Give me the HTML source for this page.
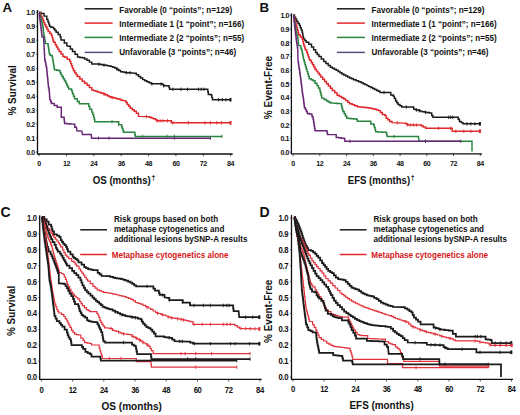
<!DOCTYPE html>
<html><head><meta charset="utf-8"><style>
html,body{margin:0;padding:0;background:#fff;}
body{width:520px;height:415px;overflow:hidden;}
svg{display:block;}
text{font-family:"Liberation Sans",sans-serif;font-weight:bold;fill:#111;}
.tk{font-size:7.1px;letter-spacing:-0.45px;}
.tk2{font-size:7.7px;letter-spacing:-0.4px;}
.lg{font-size:8.1px;}
.ax{font-size:9.8px;}
.dg{font-size:7px;}
.pl{font-size:13.3px;}
polyline{fill:none;stroke-linejoin:miter;stroke-linecap:butt;}
</style></head><body>
<svg width="520" height="415" viewBox="0 0 520 415">
<rect width="520" height="415" fill="#fff"/>
<path d="M37.5 10.0 V154.0 H232.7" stroke="#111" stroke-width="1.3" fill="none"/>
<line x1="39.1" y1="154.0" x2="39.1" y2="156.2" stroke="#111" stroke-width="0.7"/>
<text transform="translate(39.1,166.0) scale(1,1.12)" class="tk" text-anchor="middle">0</text>
<line x1="66.5" y1="154.0" x2="66.5" y2="156.2" stroke="#111" stroke-width="0.7"/>
<text transform="translate(66.5,166.0) scale(1,1.12)" class="tk" text-anchor="middle">12</text>
<line x1="93.8" y1="154.0" x2="93.8" y2="156.2" stroke="#111" stroke-width="0.7"/>
<text transform="translate(93.8,166.0) scale(1,1.12)" class="tk" text-anchor="middle">24</text>
<line x1="121.2" y1="154.0" x2="121.2" y2="156.2" stroke="#111" stroke-width="0.7"/>
<text transform="translate(121.2,166.0) scale(1,1.12)" class="tk" text-anchor="middle">36</text>
<line x1="148.5" y1="154.0" x2="148.5" y2="156.2" stroke="#111" stroke-width="0.7"/>
<text transform="translate(148.5,166.0) scale(1,1.12)" class="tk" text-anchor="middle">48</text>
<line x1="175.9" y1="154.0" x2="175.9" y2="156.2" stroke="#111" stroke-width="0.7"/>
<text transform="translate(175.9,166.0) scale(1,1.12)" class="tk" text-anchor="middle">60</text>
<line x1="203.3" y1="154.0" x2="203.3" y2="156.2" stroke="#111" stroke-width="0.7"/>
<text transform="translate(203.3,166.0) scale(1,1.12)" class="tk" text-anchor="middle">72</text>
<line x1="230.6" y1="154.0" x2="230.6" y2="156.2" stroke="#111" stroke-width="0.7"/>
<text transform="translate(230.6,166.0) scale(1,1.12)" class="tk" text-anchor="middle">84</text>
<text transform="translate(34.8,154.9) scale(1,1.1)" class="tk" text-anchor="end">0.0</text>
<line x1="36.2" y1="152.1" x2="37.5" y2="152.1" stroke="#111" stroke-width="0.7"/>
<text transform="translate(34.8,140.9) scale(1,1.1)" class="tk" text-anchor="end">0.1</text>
<line x1="36.2" y1="138.1" x2="37.5" y2="138.1" stroke="#111" stroke-width="0.7"/>
<text transform="translate(34.8,126.9) scale(1,1.1)" class="tk" text-anchor="end">0.2</text>
<line x1="36.2" y1="124.1" x2="37.5" y2="124.1" stroke="#111" stroke-width="0.7"/>
<text transform="translate(34.8,112.9) scale(1,1.1)" class="tk" text-anchor="end">0.3</text>
<line x1="36.2" y1="110.2" x2="37.5" y2="110.2" stroke="#111" stroke-width="0.7"/>
<text transform="translate(34.8,99.0) scale(1,1.1)" class="tk" text-anchor="end">0.4</text>
<line x1="36.2" y1="96.2" x2="37.5" y2="96.2" stroke="#111" stroke-width="0.7"/>
<text transform="translate(34.8,85.0) scale(1,1.1)" class="tk" text-anchor="end">0.5</text>
<line x1="36.2" y1="82.2" x2="37.5" y2="82.2" stroke="#111" stroke-width="0.7"/>
<text transform="translate(34.8,71.0) scale(1,1.1)" class="tk" text-anchor="end">0.6</text>
<line x1="36.2" y1="68.2" x2="37.5" y2="68.2" stroke="#111" stroke-width="0.7"/>
<text transform="translate(34.8,57.0) scale(1,1.1)" class="tk" text-anchor="end">0.7</text>
<line x1="36.2" y1="54.2" x2="37.5" y2="54.2" stroke="#111" stroke-width="0.7"/>
<text transform="translate(34.8,43.0) scale(1,1.1)" class="tk" text-anchor="end">0.8</text>
<line x1="36.2" y1="40.3" x2="37.5" y2="40.3" stroke="#111" stroke-width="0.7"/>
<text transform="translate(34.8,29.1) scale(1,1.1)" class="tk" text-anchor="end">0.9</text>
<line x1="36.2" y1="26.3" x2="37.5" y2="26.3" stroke="#111" stroke-width="0.7"/>
<text transform="translate(34.8,15.1) scale(1,1.1)" class="tk" text-anchor="end">1.0</text>
<line x1="36.2" y1="12.3" x2="37.5" y2="12.3" stroke="#111" stroke-width="0.7"/>
<path d="M291.4 13.3 V153.9 H482.0" stroke="#111" stroke-width="1.3" fill="none"/>
<line x1="293.1" y1="153.9" x2="293.1" y2="156.1" stroke="#111" stroke-width="0.7"/>
<text transform="translate(293.1,165.7) scale(1,1.12)" class="tk" text-anchor="middle">0</text>
<line x1="319.8" y1="153.9" x2="319.8" y2="156.1" stroke="#111" stroke-width="0.7"/>
<text transform="translate(319.8,165.7) scale(1,1.12)" class="tk" text-anchor="middle">12</text>
<line x1="346.6" y1="153.9" x2="346.6" y2="156.1" stroke="#111" stroke-width="0.7"/>
<text transform="translate(346.6,165.7) scale(1,1.12)" class="tk" text-anchor="middle">24</text>
<line x1="373.3" y1="153.9" x2="373.3" y2="156.1" stroke="#111" stroke-width="0.7"/>
<text transform="translate(373.3,165.7) scale(1,1.12)" class="tk" text-anchor="middle">36</text>
<line x1="400.1" y1="153.9" x2="400.1" y2="156.1" stroke="#111" stroke-width="0.7"/>
<text transform="translate(400.1,165.7) scale(1,1.12)" class="tk" text-anchor="middle">48</text>
<line x1="426.8" y1="153.9" x2="426.8" y2="156.1" stroke="#111" stroke-width="0.7"/>
<text transform="translate(426.8,165.7) scale(1,1.12)" class="tk" text-anchor="middle">60</text>
<line x1="453.5" y1="153.9" x2="453.5" y2="156.1" stroke="#111" stroke-width="0.7"/>
<text transform="translate(453.5,165.7) scale(1,1.12)" class="tk" text-anchor="middle">72</text>
<line x1="480.3" y1="153.9" x2="480.3" y2="156.1" stroke="#111" stroke-width="0.7"/>
<text transform="translate(480.3,165.7) scale(1,1.12)" class="tk" text-anchor="middle">84</text>
<text transform="translate(288.9,154.9) scale(1,1.1)" class="tk" text-anchor="end">0.0</text>
<line x1="290.1" y1="152.1" x2="291.4" y2="152.1" stroke="#111" stroke-width="0.7"/>
<text transform="translate(288.9,141.2) scale(1,1.1)" class="tk" text-anchor="end">0.1</text>
<line x1="290.1" y1="138.4" x2="291.4" y2="138.4" stroke="#111" stroke-width="0.7"/>
<text transform="translate(288.9,127.5) scale(1,1.1)" class="tk" text-anchor="end">0.2</text>
<line x1="290.1" y1="124.8" x2="291.4" y2="124.8" stroke="#111" stroke-width="0.7"/>
<text transform="translate(288.9,113.9) scale(1,1.1)" class="tk" text-anchor="end">0.3</text>
<line x1="290.1" y1="111.1" x2="291.4" y2="111.1" stroke="#111" stroke-width="0.7"/>
<text transform="translate(288.9,100.2) scale(1,1.1)" class="tk" text-anchor="end">0.4</text>
<line x1="290.1" y1="97.4" x2="291.4" y2="97.4" stroke="#111" stroke-width="0.7"/>
<text transform="translate(288.9,86.5) scale(1,1.1)" class="tk" text-anchor="end">0.5</text>
<line x1="290.1" y1="83.8" x2="291.4" y2="83.8" stroke="#111" stroke-width="0.7"/>
<text transform="translate(288.9,72.9) scale(1,1.1)" class="tk" text-anchor="end">0.6</text>
<line x1="290.1" y1="70.1" x2="291.4" y2="70.1" stroke="#111" stroke-width="0.7"/>
<text transform="translate(288.9,59.2) scale(1,1.1)" class="tk" text-anchor="end">0.7</text>
<line x1="290.1" y1="56.4" x2="291.4" y2="56.4" stroke="#111" stroke-width="0.7"/>
<text transform="translate(288.9,45.5) scale(1,1.1)" class="tk" text-anchor="end">0.8</text>
<line x1="290.1" y1="42.7" x2="291.4" y2="42.7" stroke="#111" stroke-width="0.7"/>
<text transform="translate(288.9,31.8) scale(1,1.1)" class="tk" text-anchor="end">0.9</text>
<line x1="290.1" y1="29.1" x2="291.4" y2="29.1" stroke="#111" stroke-width="0.7"/>
<text transform="translate(288.9,18.2) scale(1,1.1)" class="tk" text-anchor="end">1.0</text>
<line x1="290.1" y1="15.4" x2="291.4" y2="15.4" stroke="#111" stroke-width="0.7"/>
<path d="M39.7 215.2 V379.3 H261.7" stroke="#111" stroke-width="1.3" fill="none"/>
<line x1="41.4" y1="379.3" x2="41.4" y2="381.5" stroke="#111" stroke-width="0.7"/>
<text transform="translate(41.4,392.5) scale(1,1.12)" class="tk2" text-anchor="middle">0</text>
<line x1="72.6" y1="379.3" x2="72.6" y2="381.5" stroke="#111" stroke-width="0.7"/>
<text transform="translate(72.6,392.5) scale(1,1.12)" class="tk2" text-anchor="middle">12</text>
<line x1="103.8" y1="379.3" x2="103.8" y2="381.5" stroke="#111" stroke-width="0.7"/>
<text transform="translate(103.8,392.5) scale(1,1.12)" class="tk2" text-anchor="middle">24</text>
<line x1="135.0" y1="379.3" x2="135.0" y2="381.5" stroke="#111" stroke-width="0.7"/>
<text transform="translate(135.0,392.5) scale(1,1.12)" class="tk2" text-anchor="middle">36</text>
<line x1="166.2" y1="379.3" x2="166.2" y2="381.5" stroke="#111" stroke-width="0.7"/>
<text transform="translate(166.2,392.5) scale(1,1.12)" class="tk2" text-anchor="middle">48</text>
<line x1="197.5" y1="379.3" x2="197.5" y2="381.5" stroke="#111" stroke-width="0.7"/>
<text transform="translate(197.5,392.5) scale(1,1.12)" class="tk2" text-anchor="middle">60</text>
<line x1="228.7" y1="379.3" x2="228.7" y2="381.5" stroke="#111" stroke-width="0.7"/>
<text transform="translate(228.7,392.5) scale(1,1.12)" class="tk2" text-anchor="middle">72</text>
<line x1="259.9" y1="379.3" x2="259.9" y2="381.5" stroke="#111" stroke-width="0.7"/>
<text transform="translate(259.9,392.5) scale(1,1.12)" class="tk2" text-anchor="middle">84</text>
<text transform="translate(36.5,380.0) scale(1,1.1)" class="tk2" text-anchor="end">0.0</text>
<line x1="38.4" y1="377.0" x2="39.7" y2="377.0" stroke="#111" stroke-width="0.7"/>
<text transform="translate(36.5,364.1) scale(1,1.1)" class="tk2" text-anchor="end">0.1</text>
<line x1="38.4" y1="361.1" x2="39.7" y2="361.1" stroke="#111" stroke-width="0.7"/>
<text transform="translate(36.5,348.2) scale(1,1.1)" class="tk2" text-anchor="end">0.2</text>
<line x1="38.4" y1="345.2" x2="39.7" y2="345.2" stroke="#111" stroke-width="0.7"/>
<text transform="translate(36.5,332.3) scale(1,1.1)" class="tk2" text-anchor="end">0.3</text>
<line x1="38.4" y1="329.3" x2="39.7" y2="329.3" stroke="#111" stroke-width="0.7"/>
<text transform="translate(36.5,316.4) scale(1,1.1)" class="tk2" text-anchor="end">0.4</text>
<line x1="38.4" y1="313.4" x2="39.7" y2="313.4" stroke="#111" stroke-width="0.7"/>
<text transform="translate(36.5,300.5) scale(1,1.1)" class="tk2" text-anchor="end">0.5</text>
<line x1="38.4" y1="297.5" x2="39.7" y2="297.5" stroke="#111" stroke-width="0.7"/>
<text transform="translate(36.5,284.6) scale(1,1.1)" class="tk2" text-anchor="end">0.6</text>
<line x1="38.4" y1="281.6" x2="39.7" y2="281.6" stroke="#111" stroke-width="0.7"/>
<text transform="translate(36.5,268.7) scale(1,1.1)" class="tk2" text-anchor="end">0.7</text>
<line x1="38.4" y1="265.7" x2="39.7" y2="265.7" stroke="#111" stroke-width="0.7"/>
<text transform="translate(36.5,252.8) scale(1,1.1)" class="tk2" text-anchor="end">0.8</text>
<line x1="38.4" y1="249.8" x2="39.7" y2="249.8" stroke="#111" stroke-width="0.7"/>
<text transform="translate(36.5,236.9) scale(1,1.1)" class="tk2" text-anchor="end">0.9</text>
<line x1="38.4" y1="233.9" x2="39.7" y2="233.9" stroke="#111" stroke-width="0.7"/>
<text transform="translate(36.5,221.0) scale(1,1.1)" class="tk2" text-anchor="end">1.0</text>
<line x1="38.4" y1="218.0" x2="39.7" y2="218.0" stroke="#111" stroke-width="0.7"/>
<path d="M291.5 215.0 V379.3 H513.0" stroke="#111" stroke-width="1.3" fill="none"/>
<line x1="292.9" y1="379.3" x2="292.9" y2="381.5" stroke="#111" stroke-width="0.7"/>
<text transform="translate(292.9,392.4) scale(1,1.12)" class="tk2" text-anchor="middle">0</text>
<line x1="324.1" y1="379.3" x2="324.1" y2="381.5" stroke="#111" stroke-width="0.7"/>
<text transform="translate(324.1,392.4) scale(1,1.12)" class="tk2" text-anchor="middle">12</text>
<line x1="355.4" y1="379.3" x2="355.4" y2="381.5" stroke="#111" stroke-width="0.7"/>
<text transform="translate(355.4,392.4) scale(1,1.12)" class="tk2" text-anchor="middle">24</text>
<line x1="386.6" y1="379.3" x2="386.6" y2="381.5" stroke="#111" stroke-width="0.7"/>
<text transform="translate(386.6,392.4) scale(1,1.12)" class="tk2" text-anchor="middle">36</text>
<line x1="417.8" y1="379.3" x2="417.8" y2="381.5" stroke="#111" stroke-width="0.7"/>
<text transform="translate(417.8,392.4) scale(1,1.12)" class="tk2" text-anchor="middle">48</text>
<line x1="449.0" y1="379.3" x2="449.0" y2="381.5" stroke="#111" stroke-width="0.7"/>
<text transform="translate(449.0,392.4) scale(1,1.12)" class="tk2" text-anchor="middle">60</text>
<line x1="480.3" y1="379.3" x2="480.3" y2="381.5" stroke="#111" stroke-width="0.7"/>
<text transform="translate(480.3,392.4) scale(1,1.12)" class="tk2" text-anchor="middle">72</text>
<line x1="511.5" y1="379.3" x2="511.5" y2="381.5" stroke="#111" stroke-width="0.7"/>
<text transform="translate(511.5,392.4) scale(1,1.12)" class="tk2" text-anchor="middle">84</text>
<text transform="translate(288.1,380.0) scale(1,1.1)" class="tk2" text-anchor="end">0.0</text>
<line x1="290.2" y1="377.0" x2="291.5" y2="377.0" stroke="#111" stroke-width="0.7"/>
<text transform="translate(288.1,364.1) scale(1,1.1)" class="tk2" text-anchor="end">0.1</text>
<line x1="290.2" y1="361.1" x2="291.5" y2="361.1" stroke="#111" stroke-width="0.7"/>
<text transform="translate(288.1,348.2) scale(1,1.1)" class="tk2" text-anchor="end">0.2</text>
<line x1="290.2" y1="345.2" x2="291.5" y2="345.2" stroke="#111" stroke-width="0.7"/>
<text transform="translate(288.1,332.3) scale(1,1.1)" class="tk2" text-anchor="end">0.3</text>
<line x1="290.2" y1="329.3" x2="291.5" y2="329.3" stroke="#111" stroke-width="0.7"/>
<text transform="translate(288.1,316.4) scale(1,1.1)" class="tk2" text-anchor="end">0.4</text>
<line x1="290.2" y1="313.4" x2="291.5" y2="313.4" stroke="#111" stroke-width="0.7"/>
<text transform="translate(288.1,300.5) scale(1,1.1)" class="tk2" text-anchor="end">0.5</text>
<line x1="290.2" y1="297.5" x2="291.5" y2="297.5" stroke="#111" stroke-width="0.7"/>
<text transform="translate(288.1,284.6) scale(1,1.1)" class="tk2" text-anchor="end">0.6</text>
<line x1="290.2" y1="281.6" x2="291.5" y2="281.6" stroke="#111" stroke-width="0.7"/>
<text transform="translate(288.1,268.7) scale(1,1.1)" class="tk2" text-anchor="end">0.7</text>
<line x1="290.2" y1="265.7" x2="291.5" y2="265.7" stroke="#111" stroke-width="0.7"/>
<text transform="translate(288.1,252.8) scale(1,1.1)" class="tk2" text-anchor="end">0.8</text>
<line x1="290.2" y1="249.8" x2="291.5" y2="249.8" stroke="#111" stroke-width="0.7"/>
<text transform="translate(288.1,236.9) scale(1,1.1)" class="tk2" text-anchor="end">0.9</text>
<line x1="290.2" y1="233.9" x2="291.5" y2="233.9" stroke="#111" stroke-width="0.7"/>
<text transform="translate(288.1,221.0) scale(1,1.1)" class="tk2" text-anchor="end">1.0</text>
<line x1="290.2" y1="218.0" x2="291.5" y2="218.0" stroke="#111" stroke-width="0.7"/>
<polyline points="39.0,12.5 41.0,12.5 41.0,13.5 44.1,13.5 44.1,16.1 46.8,16.1 46.8,19.4 48.0,19.4 48.0,22.0 48.8,22.0 48.8,24.1 49.5,24.1 49.5,26.2 50.8,26.2 50.8,27.2 53.5,27.2 53.5,28.8 54.9,28.8 54.9,30.5 56.2,30.5 56.2,32.2 58.2,32.2 58.2,34.5 60.2,34.5 60.2,36.9 61.0,36.9 61.0,40.0 64.3,40.0 64.3,43.0 66.8,43.0 66.8,45.8 68.3,46.3 70.4,46.3 70.4,48.9 72.5,48.9 72.5,51.5 75.0,51.5 75.0,54.2 77.5,54.2 77.5,57.0 79.8,57.0 79.8,57.4 82.2,57.4 82.2,57.7 84.6,57.7 84.6,59.0 87.0,59.0 87.0,60.2 89.4,60.2 89.4,62.1 91.8,62.1 91.8,64.0 97.5,64.0 99.4,64.0 99.4,64.3 101.4,64.3 101.4,64.7 103.3,64.7 103.3,65.0 105.2,65.0 105.2,65.3 107.2,65.3 107.2,65.7 109.1,65.7 109.1,66.0 111.0,66.0 111.0,66.6 112.9,66.6 112.9,67.3 114.8,67.3 114.8,67.9 116.7,67.9 116.7,69.2 118.7,69.2 118.7,70.4 120.6,70.4 120.6,71.7 122.5,71.7 122.5,72.0 124.5,72.0 124.5,72.4 126.4,72.4 126.4,72.7 130.0,72.7 134.2,73.3 136.3,73.3 136.3,74.8 138.5,74.8 138.5,76.4 140.6,76.4 140.6,78.0 142.7,78.0 142.7,79.6 144.8,79.6 144.8,80.7 146.9,80.7 146.9,81.7 149.1,81.7 149.1,82.8 151.2,82.8 151.2,83.8 160.1,83.8 162.4,83.8 162.4,84.5 163.6,84.5 163.6,85.8 168.4,85.8 169.0,85.8 169.0,87.5 169.6,87.5 169.6,89.3 207.2,89.3 207.8,89.3 207.8,91.8 208.3,91.8 208.3,94.4 211.4,94.4 211.4,95.5 211.9,95.5 211.9,97.6 212.5,97.6 212.5,99.7 230.5,99.7" stroke="#1b1b1b" stroke-width="1.45"/>
<polyline points="39.0,12.5 40.0,12.5 40.0,14.4 41.0,14.4 41.0,16.2 42.0,16.2 42.0,18.1 42.9,18.1 42.9,20.3 43.8,20.3 43.8,22.6 44.7,22.6 44.7,24.8 45.8,24.8 45.8,27.0 47.0,27.0 47.0,29.3 48.1,29.3 48.1,31.5 49.8,31.5 49.8,33.5 51.5,33.5 51.5,35.6 52.2,35.6 52.2,37.8 52.8,37.8 52.8,40.1 53.5,40.1 53.5,42.3 55.2,42.3 55.2,44.8 56.5,44.8 56.5,47.0 57.8,47.0 57.8,49.3 59.1,49.3 59.1,51.5 61.0,51.5 61.0,54.0 62.9,54.0 62.9,56.4 64.8,56.4 64.8,57.3 67.2,57.3 67.2,59.2 69.7,59.2 69.7,61.2 70.7,61.2 70.7,63.6 71.6,63.6 71.6,66.0 72.5,66.0 72.5,68.4 73.5,68.4 73.5,70.8 74.8,70.8 74.8,72.7 76.0,72.7 76.0,74.6 77.3,74.6 77.3,76.5 79.8,76.5 79.8,78.9 82.2,78.9 82.2,81.3 84.6,81.3 84.6,83.2 87.0,83.2 87.0,85.2 89.4,85.2 89.4,87.6 91.8,87.6 91.8,90.0 93.7,90.0 93.7,90.6 95.6,90.6 95.6,91.3 97.5,91.3 97.5,91.9 99.4,91.9 99.4,92.5 101.4,92.5 101.4,93.2 103.3,93.2 103.3,93.8 105.2,93.8 105.2,94.8 107.2,94.8 107.2,95.7 109.1,95.7 109.1,96.7 111.0,96.7 111.0,97.2 112.9,97.2 112.9,97.7 114.9,97.7 114.9,98.2 116.8,98.2 116.8,98.7 118.7,98.7 118.7,99.3 120.6,99.3 120.6,100.0 122.5,100.0 122.5,100.6 124.5,100.6 125.9,100.6 125.9,102.5 127.3,102.5 127.3,104.4 128.8,104.4 128.8,106.3 130.2,106.3 130.2,108.3 132.2,108.3 132.2,109.8 134.2,109.8 134.2,111.3 136.3,111.3 136.3,113.2 138.5,113.2 138.5,116.4 146.9,116.6 149.1,116.6 149.1,117.3 151.2,117.3 151.2,118.0 153.3,118.0 153.3,118.8 155.4,118.8 155.4,119.5 156.4,119.5 156.4,120.8 169.1,120.8 171.3,120.8 171.3,122.8 230.5,122.8" stroke="#e0282c" stroke-width="1.45"/>
<polyline points="39.0,12.5 39.6,12.5 39.6,14.8 40.2,14.8 40.2,17.1 40.9,17.1 40.9,19.3 41.5,19.3 41.5,21.6 42.1,21.6 42.1,23.9 42.7,23.9 42.7,26.2 43.0,26.2 43.0,28.3 43.3,28.3 43.3,30.5 43.5,30.5 43.5,32.6 43.8,32.6 43.8,34.8 44.1,34.8 44.1,36.9 44.7,36.9 44.7,40.0 45.0,40.0 45.0,41.8 45.4,41.8 45.4,43.6 48.1,43.6 48.1,46.3 48.5,46.3 48.5,48.3 48.8,48.3 48.8,50.3 49.1,50.3 49.1,52.4 49.5,52.4 49.5,54.4 50.4,54.4 50.4,55.4 52.2,55.4 52.2,57.1 52.6,57.1 52.6,59.1 52.9,59.1 52.9,61.1 53.3,61.1 53.3,63.1 53.6,63.1 53.6,65.3 54.0,65.3 54.0,67.6 54.3,67.6 54.3,69.8 56.7,69.8 56.7,70.3 59.1,70.3 59.1,70.8 60.1,70.8 60.1,72.7 61.0,72.7 61.0,74.6 62.0,74.6 62.0,76.5 63.3,76.5 63.3,78.8 64.5,78.8 64.5,81.0 65.8,81.0 65.8,83.3 66.8,83.3 66.8,85.2 67.7,85.2 67.7,87.1 68.7,87.1 68.7,89.0 71.6,89.0 71.6,91.0 72.5,91.0 72.5,93.8 73.5,93.8 73.5,96.2 74.5,96.2 74.5,98.7 77.3,98.7 77.3,101.5 79.3,101.5 79.3,103.8 87.9,103.8 88.8,103.8 88.8,106.5 89.8,106.5 89.8,109.2 91.8,109.2 91.8,112.1 92.8,112.1 92.8,114.5 93.7,114.5 93.7,116.9 94.2,116.9 94.2,119.3 94.7,119.3 94.7,121.7 116.8,121.7 118.7,121.7 118.7,124.6 121.6,124.6 121.6,126.5 122.2,126.5 122.2,128.4 122.9,128.4 122.9,130.4 123.5,130.4 123.5,132.3 134.2,132.3 134.8,132.3 134.8,134.4 135.3,134.4 135.3,136.4 222.0,136.4" stroke="#2a8440" stroke-width="1.45"/>
<polyline points="39.0,12.5 39.3,12.5 39.3,14.7 39.5,14.7 39.5,16.9 39.8,16.9 39.8,19.2 40.1,19.2 40.1,21.4 40.4,21.4 40.4,23.6 40.6,23.6 40.6,25.8 40.9,25.8 40.9,28.0 41.2,28.0 41.2,30.2 41.5,30.2 41.5,32.5 41.7,32.5 41.7,34.7 42.0,34.7 42.0,36.9 43.7,36.9 43.7,40.0 43.8,40.0 43.8,42.2 43.9,42.2 43.9,44.4 44.0,44.4 44.0,46.6 44.1,46.6 44.1,48.8 44.3,48.8 44.3,51.0 44.4,51.0 44.4,53.2 44.5,53.2 44.5,55.4 44.6,55.4 44.6,57.6 44.7,57.6 44.7,59.8 45.2,59.8 45.2,62.0 45.7,62.0 45.7,64.3 46.1,64.3 46.1,66.5 46.6,66.5 46.6,68.8 46.8,68.8 46.8,70.9 47.0,70.9 47.0,73.1 47.2,73.1 47.2,75.2 47.4,75.2 47.4,77.3 47.7,77.3 47.7,79.5 47.9,79.5 47.9,81.6 48.1,81.6 48.1,83.7 48.3,83.7 48.3,85.9 48.5,85.9 48.5,88.0 49.1,88.0 49.1,90.0 49.3,90.0 49.3,92.4 49.5,92.4 49.5,94.8 49.6,94.8 49.6,97.2 49.8,97.2 49.8,99.6 50.6,99.6 50.6,101.5 51.4,101.5 51.4,103.5 54.3,103.5 54.3,105.4 57.2,105.4 57.2,107.3 59.1,107.3 61.3,107.3 61.3,110.0 61.3,117.2 63.8,117.2 64.1,117.2 64.1,119.3 64.3,119.3 64.3,121.4 64.6,121.4 64.6,123.5 66.9,123.5 66.9,123.7 69.2,123.7 69.2,123.9 71.6,123.9 71.6,124.1 73.9,124.1 73.9,124.3 74.8,124.3 74.8,127.3 76.5,127.3 76.5,128.1 76.9,130.7 81.9,131.1 82.4,134.5 91.2,134.5 91.6,138.2 210.4,138.2" stroke="#682676" stroke-width="1.45"/>
<polyline points="293.4,15.0 294.5,15.0 294.5,17.1 295.6,17.1 295.6,19.3 296.7,19.3 296.7,21.4 298.0,21.4 298.0,23.4 299.4,23.4 299.4,25.5 300.3,25.5 300.3,27.7 301.2,27.7 301.2,30.0 302.1,30.0 302.1,32.2 302.6,32.2 302.6,34.4 303.0,34.4 303.0,36.7 303.5,36.7 303.5,38.9 304.9,38.9 304.9,40.6 306.2,40.6 306.2,42.3 308.8,42.3 308.8,44.3 311.5,44.3 311.5,47.0 313.6,47.0 313.6,49.7 315.6,49.7 315.6,52.4 317.2,52.4 317.2,54.4 318.9,54.4 318.9,56.4 321.3,56.4 321.3,59.0 323.7,59.0 323.7,61.5 325.9,61.5 325.9,63.4 328.2,63.4 328.2,65.4 330.4,65.4 330.4,67.3 332.3,67.3 332.3,68.3 334.3,68.3 334.3,69.2 336.2,69.2 336.2,70.2 338.1,70.2 338.1,71.5 340.0,71.5 340.0,72.7 341.9,72.7 341.9,74.0 343.8,74.0 343.8,75.0 345.8,75.0 345.8,75.9 347.7,75.9 347.7,76.9 349.6,76.9 349.6,77.9 351.6,77.9 351.6,78.8 353.5,78.8 353.5,79.8 356.1,79.8 356.1,80.8 358.6,80.8 358.6,81.7 361.2,81.7 361.2,82.7 363.1,82.7 363.1,83.7 365.0,83.7 365.0,84.6 366.9,84.6 366.9,85.6 368.8,85.6 368.8,86.6 370.8,86.6 370.8,87.5 372.7,87.5 372.7,88.5 374.6,88.5 374.6,89.4 376.6,89.4 376.6,90.4 378.5,90.4 378.5,91.3 380.0,91.3 380.0,92.5 388.4,92.5 390.8,92.5 390.8,94.9 393.2,94.9 393.2,96.1 394.4,96.1 394.4,98.5 395.6,98.5 395.6,100.9 396.8,100.9 396.8,102.7 398.0,102.7 398.0,104.5 399.9,104.5 399.9,105.7 401.7,105.7 401.7,106.9 411.3,106.9 413.7,106.9 413.7,109.3 416.1,109.3 416.1,109.9 418.5,109.9 418.5,110.5 420.3,110.5 420.3,111.1 422.1,111.1 422.1,111.7 424.5,111.7 424.5,112.1 426.9,112.1 426.9,112.5 429.3,112.5 429.3,112.9 431.7,112.9 431.7,115.4 432.9,115.4 432.9,117.3 457.0,117.3 458.2,117.3 458.2,119.3 459.4,119.3 459.4,121.4 461.2,121.4 461.2,122.6 463.0,122.6 463.0,123.8 479.9,123.8" stroke="#1b1b1b" stroke-width="1.45"/>
<polyline points="293.4,15.0 293.9,15.0 293.9,17.1 294.5,17.1 294.5,19.2 295.0,19.2 295.0,21.3 295.6,21.3 295.6,23.4 296.1,23.4 296.1,25.5 296.8,25.5 296.8,27.9 297.4,27.9 297.4,30.2 298.1,30.2 298.1,32.5 298.7,32.5 298.7,34.9 300.4,34.9 300.4,36.9 302.1,36.9 302.1,38.9 302.8,38.9 302.8,41.6 303.5,41.6 303.5,44.3 304.1,44.3 304.1,46.2 304.8,46.2 304.8,48.1 305.4,48.1 305.4,50.0 306.8,50.0 306.8,52.4 307.6,52.4 307.6,54.8 308.4,54.8 308.4,57.2 309.2,57.2 309.2,59.6 310.2,59.6 310.2,60.5 311.4,60.5 311.4,62.7 312.6,62.7 312.6,64.8 313.8,64.8 313.8,67.0 315.0,67.0 315.0,69.2 316.4,69.2 316.4,71.1 317.9,71.1 317.9,73.1 319.4,73.1 319.4,75.0 320.8,75.0 320.8,76.9 322.7,76.9 322.7,79.2 324.6,79.2 324.6,81.4 326.5,81.4 326.5,83.7 328.4,83.7 328.4,85.9 330.4,85.9 330.4,88.2 332.3,88.2 332.3,90.4 334.7,90.4 334.7,92.8 337.1,92.8 337.1,95.2 339.3,95.2 339.3,96.5 341.6,96.5 341.6,97.7 343.8,97.7 343.8,99.0 345.7,99.0 345.7,100.6 347.7,100.6 347.7,102.2 349.6,102.2 349.6,103.8 352.2,103.8 352.2,104.8 354.7,104.8 354.7,105.7 357.3,105.7 357.3,106.7 359.7,106.7 359.7,107.0 362.1,107.0 362.1,107.2 364.5,107.2 364.5,107.5 366.9,107.5 366.9,107.7 368.8,107.7 368.8,108.0 370.8,108.0 370.8,108.4 372.7,108.4 372.7,108.7 374.6,108.7 374.6,109.3 376.6,109.3 376.6,110.0 378.5,110.0 378.5,110.6 380.4,110.6 380.4,112.5 382.3,112.5 382.3,114.4 384.8,114.4 384.8,115.4 386.2,115.4 386.2,118.3 387.9,118.3 387.9,119.8 389.6,119.8 389.6,121.4 392.0,121.4 392.0,122.6 404.1,123.1 405.9,123.1 405.9,124.0 407.7,124.0 407.7,125.0 419.7,125.0 421.5,125.0 421.5,126.0 423.3,126.0 423.3,126.9 425.7,126.9 425.7,128.3 450.8,128.3 452.2,128.3 452.2,131.2 479.9,131.2" stroke="#e0282c" stroke-width="1.45"/>
<polyline points="293.4,15.0 293.7,15.0 293.7,17.1 294.1,17.1 294.1,19.3 294.4,19.3 294.4,21.5 294.8,21.5 294.8,23.6 295.1,23.6 295.1,25.8 295.4,25.8 295.4,27.9 295.8,27.9 295.8,30.1 296.1,30.1 296.1,32.2 296.6,32.2 296.6,34.2 297.1,34.2 297.1,36.2 297.6,36.2 297.6,38.3 298.1,38.3 298.1,40.3 298.7,45.6 300.8,45.6 300.8,48.3 301.5,48.3 301.5,50.0 302.1,50.0 302.1,52.4 302.6,52.4 302.6,54.8 303.0,54.8 303.0,57.2 303.5,57.2 303.5,59.6 304.2,59.6 304.2,62.0 304.9,62.0 304.9,64.4 305.6,64.4 305.6,66.8 306.3,66.8 306.3,69.2 307.0,69.2 307.0,71.6 307.8,71.6 307.8,74.0 308.5,74.0 308.5,76.4 309.2,76.4 309.2,78.8 311.1,78.8 311.1,79.8 313.1,79.8 313.1,80.8 315.0,80.8 315.0,83.2 316.9,83.2 316.9,85.6 318.4,85.6 318.4,88.0 319.8,88.0 319.8,90.4 320.4,90.4 320.4,93.0 321.1,93.0 321.1,95.5 321.7,95.5 321.7,98.1 324.1,98.1 324.1,99.5 326.5,99.5 326.5,101.0 328.4,101.0 328.4,102.0 330.4,102.0 330.4,102.9 332.5,102.9 332.5,103.1 334.6,103.1 334.6,103.3 336.8,103.3 336.8,103.4 338.9,103.4 338.9,103.6 341.0,103.6 341.0,103.8 341.5,103.8 341.5,105.7 341.9,105.7 341.9,107.7 342.4,107.7 342.4,109.6 342.9,109.6 342.9,111.5 344.2,111.5 344.2,113.8 345.4,113.8 345.4,116.0 346.7,116.0 346.7,118.3 349.1,118.3 349.1,118.5 351.5,118.5 351.5,118.8 353.9,118.8 353.9,119.0 356.3,119.0 356.3,119.2 357.3,119.2 357.3,121.2 368.8,121.2 370.8,121.2 370.8,124.0 373.7,124.0 373.7,125.0 374.3,125.0 374.3,127.2 375.0,127.2 375.0,129.5 375.6,129.5 375.6,131.7 377.7,131.7 377.7,131.9 379.8,131.9 379.8,132.0 382.0,132.0 382.0,132.2 384.1,132.2 384.1,132.3 386.2,132.3 386.2,132.5 386.6,132.5 386.6,134.5 387.1,134.5 387.1,136.5 418.5,136.5 419.0,141.2 472.0,141.2 472.0,151.5" stroke="#2a8440" stroke-width="1.45"/>
<polyline points="293.4,15.0 293.6,15.0 293.6,17.2 293.9,17.2 293.9,19.3 294.1,19.3 294.1,21.5 294.4,21.5 294.4,23.7 294.6,23.7 294.6,25.9 294.9,25.9 294.9,28.0 295.1,28.0 295.1,30.2 295.4,30.2 295.4,32.4 295.6,32.4 295.6,34.6 295.9,34.6 295.9,36.7 296.1,36.7 296.1,38.9 296.4,38.9 296.4,41.1 296.7,41.1 296.7,43.3 297.1,43.3 297.1,45.6 297.4,45.6 297.4,47.8 297.7,47.8 297.7,50.0 298.1,61.8 298.4,61.8 298.4,63.9 298.7,63.9 298.7,66.0 299.0,66.0 299.0,68.2 299.4,68.2 299.4,70.3 299.7,70.3 299.7,72.4 300.0,72.4 300.0,74.5 300.3,74.5 300.3,76.7 300.6,76.7 300.6,78.8 300.9,78.8 300.9,81.0 301.1,81.0 301.1,83.2 301.4,83.2 301.4,85.4 301.7,85.4 301.7,87.6 302.0,87.6 302.0,89.8 302.2,89.8 302.2,92.0 302.5,92.0 302.5,94.2 302.8,94.2 302.8,96.1 303.2,96.1 303.2,98.1 303.5,98.1 303.5,100.0 303.7,100.0 303.7,101.9 303.9,101.9 303.9,103.8 304.2,103.8 304.2,105.8 304.4,105.8 304.4,107.7 305.4,107.7 305.4,109.6 306.4,109.6 306.4,111.5 307.3,111.5 307.3,113.5 309.2,113.5 309.2,114.0 311.2,114.0 311.2,114.4 312.1,114.4 312.1,116.8 313.1,116.8 313.1,119.2 313.5,119.2 313.5,121.5 313.9,121.5 313.9,123.8 314.2,123.8 314.2,126.2 314.6,126.2 314.6,128.5 315.0,128.5 315.0,130.8 326.5,130.8 327.0,130.8 327.0,132.7 327.5,132.7 327.5,134.6 334.2,134.6 336.2,134.6 336.2,137.5 338.7,137.5 338.7,137.8 341.3,137.8 341.3,138.2 343.8,138.2 343.8,138.5 344.8,138.5 344.8,141.3 460.8,141.3" stroke="#682676" stroke-width="1.45"/>
<polyline points="41.9,216.9 44.3,216.9 44.3,219.3 46.7,219.3 46.7,221.7 48.7,221.7 48.7,224.6 51.1,224.6 51.1,226.6 51.8,226.6 51.8,229.0 52.5,229.0 52.5,231.4 54.0,231.4 54.0,234.3 56.9,234.3 56.9,235.7 59.3,235.7 59.3,237.2 60.7,237.2 60.7,240.0 61.9,240.0 61.9,241.8 63.1,241.8 63.1,243.5 64.5,243.5 64.5,245.2 66.0,245.2 66.0,246.8 67.0,246.8 67.0,249.2 67.9,249.2 67.9,251.7 70.4,251.7 70.4,254.3 72.7,254.3 72.7,256.5 73.8,256.5 73.8,257.8 75.5,257.8 75.5,259.1 77.3,259.1 77.3,260.4 78.5,260.4 78.5,262.3 81.6,262.3 81.6,264.7 84.2,264.7 84.2,267.1 86.0,267.1 86.0,268.2 88.1,268.2 88.1,269.0 90.5,269.0 90.5,269.5 92.9,269.5 92.9,270.0 94.6,270.0 97.7,270.0 97.7,272.9 99.6,272.9 99.6,274.4 101.5,274.4 101.5,275.8 107.3,276.0 110.2,276.0 110.2,276.8 113.1,276.8 113.1,277.7 115.0,277.7 115.0,278.0 116.9,278.0 116.9,278.3 118.8,278.3 118.8,278.6 121.1,278.6 121.1,279.2 123.4,279.2 123.4,279.9 125.7,279.9 125.7,280.5 128.1,280.5 128.1,281.5 130.4,281.5 130.4,282.5 132.3,282.5 132.3,283.9 134.2,283.9 134.2,285.4 136.1,285.4 136.1,286.3 151.9,286.4 153.4,286.4 153.4,288.5 155.0,288.5 155.0,290.6 158.2,290.6 158.9,290.6 158.9,292.8 159.6,292.8 159.6,294.9 162.5,294.9 164.5,294.9 164.5,297.3 167.8,297.8 169.3,297.8 169.3,300.0 180.8,300.0 182.8,300.0 182.8,302.6 188.5,302.6 190.0,302.6 190.0,305.4 232.8,305.4 233.1,305.4 233.1,307.3 233.3,307.3 233.3,309.1 233.6,309.1 233.6,311.0 238.6,311.0 239.2,317.2 259.4,317.2" stroke="#1b1b1b" stroke-width="1.75"/>
<polyline points="41.9,216.9 43.2,216.9 43.2,219.2 44.5,219.2 44.5,221.4 45.8,221.4 45.8,223.7 46.8,223.7 46.8,226.1 47.7,226.1 47.7,228.5 49.6,228.5 49.6,230.4 51.0,230.4 51.0,233.1 52.5,233.1 52.5,235.7 54.0,235.7 54.0,237.4 55.4,237.4 55.4,239.1 56.8,239.1 56.8,241.0 58.3,241.0 58.3,242.9 59.5,242.9 59.5,244.9 60.7,244.9 60.7,246.8 62.6,246.8 62.6,250.0 63.9,250.0 63.9,252.6 65.2,252.6 65.2,255.2 67.0,255.2 67.0,256.9 68.7,256.9 68.7,258.7 71.7,258.7 71.7,261.3 73.8,261.3 73.8,262.1 75.2,262.1 75.2,264.1 76.5,264.1 76.5,266.2 79.0,266.2 79.0,269.0 80.5,269.0 80.5,271.0 81.9,271.0 81.9,273.1 83.4,273.1 83.4,275.1 84.8,275.1 84.8,277.1 86.3,277.1 86.3,279.1 87.7,279.1 87.7,281.1 90.3,281.1 90.3,283.7 92.9,283.7 92.9,286.3 95.1,286.3 95.1,288.1 97.2,288.1 97.2,289.8 99.2,289.8 99.2,290.7 101.3,290.7 101.3,291.5 103.3,291.5 103.3,292.4 105.6,292.4 105.6,292.7 107.9,292.7 107.9,293.0 110.2,293.0 110.2,293.3 112.5,293.3 112.5,293.9 114.8,293.9 114.8,294.4 117.1,294.4 117.1,295.0 119.4,295.0 119.4,295.6 121.7,295.6 121.7,296.1 124.0,296.1 124.0,296.7 126.3,296.7 126.3,297.6 128.6,297.6 128.6,298.4 130.9,298.4 130.9,299.3 133.2,299.3 133.2,300.9 135.4,300.9 135.4,302.5 137.9,302.5 137.9,303.4 140.5,303.4 140.5,304.2 143.0,304.2 143.0,305.4 145.5,305.4 145.5,306.7 148.1,306.7 148.1,308.0 150.6,308.0 150.6,309.3 153.1,309.3 153.1,311.0 155.6,311.0 155.6,312.6 158.1,312.6 158.1,313.5 160.7,313.5 160.7,314.3 163.2,314.3 163.2,315.1 165.8,315.1 165.8,316.0 167.9,316.0 167.9,316.9 170.0,316.9 170.0,317.7 172.4,317.7 172.4,318.1 174.9,318.1 174.9,318.4 177.4,318.4 177.4,318.8 179.8,318.8 179.8,319.1 181.9,319.1 181.9,319.6 184.0,319.6 184.0,320.1 186.2,320.1 186.2,320.7 188.3,320.7 188.3,321.2 190.4,321.2 190.4,321.7 193.0,321.7 193.0,324.4 232.8,324.4 235.0,324.4 235.0,325.7 237.3,325.7 237.3,327.1 239.5,327.1 239.5,328.4 259.4,328.9" stroke="#e3323c" stroke-width="1.20"/>
<polyline points="41.9,216.9 43.0,216.9 43.0,219.2 44.2,219.2 44.2,221.4 45.3,221.4 45.3,223.7 46.1,223.7 46.1,225.9 46.9,225.9 46.9,228.2 47.7,228.2 47.7,230.4 48.5,230.4 48.5,232.6 49.2,232.6 49.2,234.7 50.2,234.7 50.2,236.9 51.1,236.9 51.1,239.1 52.5,239.1 52.5,242.0 54.5,242.0 54.5,244.9 55.9,244.9 55.9,247.8 56.8,247.8 56.8,249.7 57.8,249.7 57.8,251.6 60.0,251.6 60.0,253.5 61.3,253.5 61.3,255.7 62.6,255.7 62.6,257.8 63.7,257.8 63.7,259.8 64.8,259.8 64.8,261.7 65.8,261.7 65.8,263.7 66.9,263.7 66.9,265.6 69.5,265.6 69.5,268.2 72.1,268.2 72.1,270.8 74.2,270.8 74.2,273.0 76.4,273.0 76.4,275.1 78.4,275.1 78.4,277.6 80.4,277.6 80.4,280.0 81.4,280.0 81.4,282.7 82.4,282.7 82.4,285.4 83.8,285.4 83.8,287.8 85.1,287.8 85.1,290.1 86.8,290.1 86.8,291.8 88.4,291.8 88.4,293.5 90.5,293.5 90.5,295.5 92.5,295.5 92.5,297.5 94.2,297.5 94.2,299.2 95.8,299.2 95.8,300.9 97.5,300.9 97.5,302.2 99.2,302.2 99.2,303.6 100.9,303.6 100.9,305.2 102.6,305.2 102.6,306.9 104.6,306.9 104.6,307.6 106.6,307.6 106.6,308.3 108.3,308.3 108.3,308.8 110.1,308.8 110.1,309.3 112.7,309.3 112.7,310.6 115.2,310.6 115.2,311.8 117.7,311.8 117.7,313.1 120.2,313.1 120.2,314.3 122.8,314.3 122.8,315.1 125.3,315.1 125.3,316.0 127.8,316.0 127.8,316.4 130.4,316.4 130.4,316.9 132.9,316.9 132.9,317.3 135.4,317.3 135.4,317.7 137.9,317.7 137.9,318.5 140.5,318.5 140.5,319.4 141.8,319.4 141.8,321.5 143.0,321.5 143.0,323.6 144.7,323.6 144.7,325.3 146.4,325.3 146.4,327.0 148.5,327.0 148.5,328.2 150.6,328.2 150.6,329.5 152.3,329.5 152.3,331.6 154.0,331.6 154.0,333.7 155.6,333.7 155.6,336.3 162.4,336.3 164.1,336.3 164.1,337.1 166.1,337.1 166.1,337.4 168.0,337.4 168.0,337.6 170.0,337.6 170.0,337.9 172.2,337.9 172.2,339.5 174.5,339.5 174.5,341.1 187.7,341.6 190.3,341.6 190.3,342.6 193.0,342.6 193.0,343.7 259.4,343.7" stroke="#1b1b1b" stroke-width="1.75"/>
<polyline points="41.9,216.9 42.7,216.9 42.7,219.5 43.5,219.5 43.5,222.0 44.3,222.0 44.3,224.6 44.9,224.6 44.9,227.0 45.5,227.0 45.5,229.4 46.1,229.4 46.1,231.9 46.7,231.9 46.7,234.3 47.4,234.3 47.4,236.2 48.0,236.2 48.0,238.1 48.7,238.1 48.7,240.0 49.7,240.0 49.7,241.9 50.6,241.9 50.6,243.9 51.3,243.9 51.3,245.9 52.0,245.9 52.0,248.0 52.5,248.0 52.5,250.0 53.0,250.0 53.0,252.0 53.5,252.0 53.5,254.0 54.1,254.0 54.1,256.1 54.8,256.1 54.8,258.3 55.4,258.3 55.4,260.4 56.0,260.4 56.0,262.3 56.7,262.3 56.7,264.1 57.3,264.1 57.3,266.0 57.9,266.0 57.9,268.2 58.6,268.2 58.6,270.3 59.2,270.3 59.2,272.5 61.2,272.5 61.2,273.5 63.1,273.5 63.1,274.5 64.3,274.5 64.3,277.0 65.6,277.0 65.6,279.5 66.5,279.5 66.5,281.9 67.3,281.9 67.3,284.3 68.2,284.3 68.2,286.7 69.6,286.7 69.6,289.4 70.9,289.4 70.9,292.1 72.6,292.1 72.6,294.1 74.3,294.1 74.3,296.2 76.0,296.2 76.0,297.5 77.7,297.5 77.7,298.8 79.7,298.8 79.7,301.5 81.1,301.5 81.1,303.6 82.4,303.6 82.4,305.6 84.4,305.6 84.4,307.6 86.4,307.6 86.4,309.6 88.1,309.6 88.1,310.6 89.8,310.6 89.8,311.6 95.8,311.6 96.8,311.6 96.8,313.3 97.9,313.3 97.9,315.0 98.9,315.0 98.9,317.7 99.9,317.7 99.9,320.4 100.9,320.4 100.9,322.4 101.9,322.4 101.9,324.4 103.2,324.4 103.2,326.1 104.6,326.1 104.6,327.8 106.7,327.8 106.7,328.0 108.9,328.0 108.9,328.3 111.0,328.3 111.0,328.5 112.6,328.5 112.6,330.4 114.6,330.4 114.6,330.9 116.5,330.9 116.5,331.5 118.5,331.5 118.5,332.0 120.2,332.0 120.2,332.9 121.9,332.9 121.9,333.7 124.4,333.7 124.4,334.0 127.0,334.0 127.0,334.3 129.5,334.3 129.5,334.6 132.0,334.6 132.0,336.3 133.7,336.3 133.7,337.1 135.4,337.1 135.4,337.9 137.1,337.9 137.1,338.8 138.8,338.8 138.8,339.6 140.5,339.6 140.5,340.9 142.2,340.9 142.2,342.2 143.8,342.2 143.8,343.0 145.5,343.0 145.5,343.8 147.2,343.8 147.2,345.1 148.9,345.1 148.9,346.4 150.2,346.4 150.2,348.5 151.4,348.5 151.4,350.6 153.1,350.6 153.1,353.6 250.1,353.6" stroke="#e3323c" stroke-width="1.20"/>
<polyline points="41.9,216.9 42.2,216.9 42.2,219.1 42.5,219.1 42.5,221.3 42.9,221.3 42.9,223.6 43.2,223.6 43.2,225.8 43.5,225.8 43.5,228.0 44.0,228.0 44.0,230.2 44.4,230.2 44.4,232.4 44.9,232.4 44.9,234.7 45.3,234.7 45.3,236.9 45.8,236.9 45.8,239.1 46.1,239.1 46.1,241.0 46.5,241.0 46.5,242.9 46.9,242.9 46.9,244.9 47.2,244.9 47.2,246.8 48.0,246.8 48.0,249.2 48.7,249.2 48.7,251.6 50.6,251.6 50.6,254.0 51.6,254.0 51.6,256.1 52.5,256.1 52.5,258.3 53.5,258.3 53.5,260.4 54.2,260.4 54.2,262.3 54.9,262.3 54.9,264.2 55.6,264.2 55.6,266.2 56.3,266.2 56.3,268.1 57.1,268.1 57.1,270.7 58.0,270.7 58.0,273.2 58.8,273.2 58.8,275.8 58.8,283.4 61.5,283.4 61.5,283.7 64.2,283.7 64.2,284.0 65.6,284.0 65.6,286.1 66.9,286.1 66.9,288.1 68.2,288.1 68.2,290.8 69.6,290.8 69.6,293.5 71.3,293.5 71.3,296.1 73.0,296.1 73.0,298.8 74.0,298.8 74.0,301.5 75.0,301.5 75.0,304.2 78.3,304.2 78.3,306.2 79.0,306.2 79.0,308.6 79.7,308.6 79.7,311.0 80.7,311.0 80.7,313.0 81.7,313.0 81.7,315.0 83.4,315.0 83.4,316.4 85.1,316.4 85.1,317.7 87.1,317.7 87.1,320.4 88.8,320.4 88.8,321.0 90.5,321.0 90.5,321.7 92.5,321.7 92.5,321.9 94.5,321.9 94.5,322.2 96.5,322.2 96.5,322.4 97.5,322.4 97.5,324.1 98.5,324.1 98.5,325.8 99.2,325.8 99.2,327.6 100.0,327.6 100.0,329.5 101.2,329.5 101.2,332.2 102.3,332.2 102.3,335.0 102.7,335.0 102.7,337.1 103.0,337.1 103.0,339.2 103.4,339.2 103.4,341.3 105.1,341.3 105.1,342.5 130.4,342.5 132.0,342.5 132.0,344.7 133.7,344.7 133.7,345.5 135.4,345.5 135.4,346.4 136.0,346.4 136.0,348.9 136.5,348.9 136.5,351.5 137.1,351.5 137.1,354.0 150.6,354.0 151.0,354.0 151.0,356.5 151.4,356.5 151.4,359.0 250.1,359.0" stroke="#1b1b1b" stroke-width="1.75"/>
<polyline points="41.9,216.9 42.2,216.9 42.2,218.9 42.5,218.9 42.5,220.9 42.7,220.9 42.7,223.0 43.0,223.0 43.0,225.0 43.5,225.0 43.5,227.3 43.9,227.3 43.9,229.7 44.3,229.7 44.3,232.0 44.8,232.0 44.8,234.3 45.1,234.3 45.1,236.4 45.4,236.4 45.4,238.5 45.8,238.5 45.8,240.6 46.1,240.6 46.1,242.6 46.4,242.6 46.4,244.7 46.7,244.7 46.7,246.8 47.0,246.8 47.0,249.4 47.4,249.4 47.4,251.9 47.7,251.9 47.7,254.5 48.0,254.5 48.0,256.6 48.2,256.6 48.2,258.7 48.5,258.7 48.5,260.8 48.7,260.8 48.7,262.9 49.0,262.9 49.0,265.0 49.2,265.0 49.2,267.1 49.5,267.1 49.5,269.3 49.7,269.3 49.7,271.4 50.0,271.4 50.0,273.6 50.2,273.6 50.2,275.7 50.5,275.7 50.5,277.9 50.7,277.9 50.7,280.0 51.1,280.0 51.1,282.2 51.4,282.2 51.4,284.5 51.8,284.5 51.8,286.8 52.1,286.8 52.1,289.0 52.4,289.0 52.4,291.2 52.8,291.2 52.8,293.5 53.2,293.5 53.2,295.6 53.6,295.6 53.6,297.8 54.0,297.8 54.0,299.9 54.4,299.9 54.4,302.1 54.8,302.1 54.8,304.2 55.8,304.2 55.8,306.9 56.8,306.9 56.8,309.6 57.8,309.6 57.8,311.3 58.8,311.3 58.8,313.0 61.5,313.0 61.5,314.3 63.8,314.3 63.8,316.5 65.3,316.5 65.3,318.9 66.9,318.9 66.9,321.2 67.9,321.2 67.9,323.2 69.0,323.2 69.0,325.3 70.0,325.3 70.0,327.3 71.5,327.3 71.5,330.4 73.0,330.4 73.0,332.3 74.6,332.3 74.6,334.2 76.5,334.2 76.5,334.6 78.5,334.6 78.5,335.0 80.8,335.0 80.8,338.1 83.1,338.1 83.1,340.4 84.6,340.4 84.6,342.7 87.3,342.7 87.3,343.1 90.0,343.1 90.0,343.5 91.5,343.5 91.5,345.0 97.7,345.0 99.2,345.0 99.2,348.1 100.0,348.1 100.0,350.8 100.8,350.8 100.8,353.5 101.5,353.5 101.5,355.4 102.3,355.4 102.3,357.3 102.3,358.5 135.4,358.5 136.3,358.5 136.3,361.6 150.6,361.6 151.0,361.6 151.0,364.4 151.4,364.4 151.4,367.1 236.8,367.1" stroke="#e3323c" stroke-width="1.20"/>
<polyline points="41.9,216.9 42.1,216.9 42.1,219.1 42.3,219.1 42.3,221.3 42.6,221.3 42.6,223.6 42.8,223.6 42.8,225.8 43.0,225.8 43.0,228.0 43.3,228.0 43.3,230.4 43.6,230.4 43.6,232.8 43.9,232.8 43.9,235.2 44.2,235.2 44.2,237.6 44.5,237.6 44.5,240.0 44.8,240.0 44.8,242.3 45.2,242.3 45.2,244.7 45.5,244.7 45.5,247.0 45.8,247.0 45.8,249.3 46.2,249.3 46.2,251.7 46.5,251.7 46.5,254.0 46.9,254.0 46.9,256.4 47.2,256.4 47.2,258.8 47.6,258.8 47.6,261.2 47.9,261.2 47.9,263.6 48.3,263.6 48.3,266.0 48.5,266.0 48.5,268.3 48.7,268.3 48.7,270.7 48.8,270.7 48.8,273.0 49.0,273.0 49.0,275.3 49.2,275.3 49.2,277.7 49.4,277.7 49.4,280.0 49.8,280.0 49.8,282.2 50.3,282.2 50.3,284.5 50.7,284.5 50.7,286.7 51.1,286.7 51.1,289.1 51.4,289.1 51.4,291.4 51.8,291.4 51.8,293.8 52.1,293.8 52.1,296.2 52.4,296.2 52.4,298.3 52.6,298.3 52.6,300.5 52.9,300.5 52.9,302.6 53.1,302.6 53.1,304.8 53.4,304.8 53.4,306.9 53.7,306.9 53.7,309.2 54.0,309.2 54.0,311.4 54.2,311.4 54.2,313.7 54.5,313.7 54.5,316.0 55.6,316.0 55.6,318.5 56.8,318.5 56.8,321.0 59.5,321.0 59.5,323.1 60.9,323.1 60.9,324.8 62.3,324.8 62.3,326.5 64.6,326.5 64.6,329.6 66.9,329.6 66.9,332.7 67.7,332.7 67.7,335.0 68.5,335.0 68.5,337.3 69.7,337.3 69.7,339.2 70.8,339.2 70.8,341.2 71.2,341.2 71.2,343.1 71.5,343.1 71.5,345.0 80.8,345.0 81.9,345.0 81.9,346.9 83.1,346.9 83.1,348.8 85.4,348.8 85.4,351.9 87.7,351.9 87.7,353.0 90.0,353.0 90.0,354.2 91.5,354.2 91.5,356.5 100.0,356.5 100.4,356.5 100.4,358.6 100.8,358.6 100.8,360.6 236.8,360.6" stroke="#1b1b1b" stroke-width="1.75"/>
<polyline points="294.2,217.0 295.2,217.0 295.2,219.1 296.3,219.1 296.3,221.2 297.3,221.2 297.3,223.3 298.4,223.3 298.4,225.4 299.1,225.4 299.1,227.4 299.9,227.4 299.9,229.4 300.6,229.4 300.6,231.3 301.4,231.3 301.4,233.3 302.1,233.3 302.1,235.5 302.8,235.5 302.8,237.8 303.5,237.8 303.5,240.0 304.3,240.0 304.3,242.1 305.0,242.1 305.0,244.1 305.8,244.1 305.8,246.2 307.0,246.2 307.0,248.1 308.2,248.1 308.2,250.0 311.2,250.0 311.2,250.8 313.1,250.8 313.1,252.3 315.1,252.3 315.1,253.8 316.6,253.8 316.6,255.8 318.2,255.8 318.2,257.7 320.1,257.7 320.1,260.4 322.0,260.4 322.0,263.1 323.6,263.1 323.6,265.0 325.1,265.0 325.1,266.9 326.6,266.9 326.6,268.9 328.2,268.9 328.2,270.8 330.1,270.8 330.1,272.0 332.0,272.0 332.0,273.1 333.9,273.1 333.9,275.4 335.8,275.4 335.8,277.7 338.2,277.7 338.2,279.0 340.1,279.0 340.1,279.3 341.9,279.3 341.9,279.7 343.8,279.7 343.8,280.0 345.8,280.0 345.8,281.9 347.7,281.9 347.7,283.8 349.6,283.8 349.6,285.8 351.5,285.8 351.5,287.7 353.4,287.7 353.4,288.3 355.4,288.3 355.4,289.0 357.3,289.0 357.3,289.6 359.2,289.6 359.2,291.1 361.2,291.1 361.2,292.5 363.1,292.5 363.1,293.5 365.0,293.5 365.0,294.4 366.9,294.4 366.9,295.4 369.3,295.4 369.3,295.9 371.7,295.9 371.7,296.3 374.1,296.3 374.1,297.8 376.5,297.8 376.5,299.2 378.7,299.2 378.7,300.9 380.9,300.9 380.9,302.5 383.3,302.5 383.3,303.5 385.7,303.5 385.7,304.5 388.1,304.5 388.1,305.5 390.5,305.5 390.5,306.2 392.9,306.2 392.9,307.0 402.1,307.1 404.8,307.1 404.8,308.4 407.4,308.4 407.4,309.7 409.4,309.7 409.4,311.0 411.4,311.0 411.4,312.4 412.7,312.4 412.7,315.0 414.0,315.0 414.0,317.7 416.0,317.7 416.0,319.7 418.0,319.7 418.0,321.7 420.6,321.7 420.6,324.4 431.3,324.4 433.6,324.4 433.6,327.5 435.9,327.5 435.9,328.2 438.2,328.2 438.2,328.8 440.5,328.8 440.5,329.5 442.5,329.5 442.5,329.7 444.6,329.7 444.6,330.0 446.6,330.0 446.6,330.2 448.7,330.2 448.7,330.5 450.7,330.5 450.7,330.7 452.8,330.7 452.8,333.8 455.9,333.8 455.9,336.5 483.5,336.5 485.6,336.5 485.6,339.3 488.1,339.3 488.1,339.6 490.7,339.6 490.7,340.0 491.7,340.0 491.7,343.0 511.2,343.0" stroke="#1b1b1b" stroke-width="1.75"/>
<polyline points="294.2,217.0 294.8,217.0 294.8,219.3 295.4,219.3 295.4,221.6 296.0,221.6 296.0,223.9 296.6,223.9 296.6,226.2 297.2,226.2 297.2,228.5 297.9,228.5 297.9,230.9 298.7,230.9 298.7,233.3 299.4,233.3 299.4,235.7 300.2,235.7 300.2,238.1 301.5,238.1 301.5,240.1 302.8,240.1 302.8,242.0 303.8,242.0 303.8,244.4 304.8,244.4 304.8,246.8 305.8,246.8 305.8,249.2 306.8,249.2 306.8,251.3 307.9,251.3 307.9,253.3 308.9,253.3 308.9,255.4 310.4,255.4 310.4,258.1 312.0,258.1 312.0,260.8 313.6,260.8 313.6,262.7 315.1,262.7 315.1,264.6 316.6,264.6 316.6,266.6 318.2,266.6 318.2,268.5 320.1,268.5 320.1,270.8 322.0,270.8 322.0,273.1 323.9,273.1 323.9,275.8 325.8,275.8 325.8,278.5 328.1,278.5 328.1,280.8 330.5,280.8 330.5,283.1 332.8,283.1 332.8,285.6 335.1,285.6 335.1,288.0 337.6,288.0 337.6,290.5 340.0,290.5 340.0,293.0 341.9,293.0 341.9,294.4 343.9,294.4 343.9,295.9 345.8,295.9 345.8,297.3 347.7,297.3 347.7,298.6 349.6,298.6 349.6,299.9 351.5,299.9 351.5,301.2 353.4,301.2 353.4,302.1 355.4,302.1 355.4,303.1 357.3,303.1 357.3,304.0 359.2,304.0 359.2,305.0 361.2,305.0 361.2,305.9 363.1,305.9 363.1,306.9 365.0,306.9 365.0,307.5 366.9,307.5 366.9,308.2 368.8,308.2 368.8,308.8 370.7,308.8 370.7,309.5 372.7,309.5 372.7,310.1 374.6,310.1 374.6,310.8 376.5,310.8 376.5,311.4 378.5,311.4 378.5,312.1 380.4,312.1 380.4,312.7 382.3,312.7 382.3,313.5 384.3,313.5 384.3,314.2 386.2,314.2 386.2,315.0 388.9,315.0 388.9,315.7 391.5,315.7 391.5,316.4 393.4,316.4 393.4,317.4 395.4,317.4 395.4,318.5 397.7,318.5 397.7,319.2 400.0,319.2 400.0,320.0 402.2,320.0 402.2,320.7 404.4,320.7 404.4,321.4 406.6,321.4 406.6,322.1 408.7,322.1 408.7,324.1 410.8,324.1 410.8,326.2 413.1,326.2 413.1,327.1 415.4,327.1 415.4,328.0 417.6,328.0 417.6,329.0 419.9,329.0 419.9,329.9 422.1,329.9 422.1,330.6 424.3,330.6 424.3,331.4 426.5,331.4 426.5,332.1 428.7,332.1 428.7,332.7 430.9,332.7 430.9,333.2 433.2,333.2 433.2,333.8 435.4,333.8 435.4,334.3 437.6,334.3 437.6,335.0 439.8,335.0 439.8,335.8 442.0,335.8 442.0,336.5 444.2,336.5 444.2,337.1 446.4,337.1 446.4,337.6 448.7,337.6 448.7,338.1 450.9,338.1 450.9,338.7 453.1,338.7 453.1,339.8 455.3,339.8 455.3,340.9 475.2,340.9 477.4,340.9 477.4,341.4 479.6,341.4 479.6,342.0 481.6,342.0 481.6,342.3 483.5,342.3 483.5,342.6 485.4,342.6 485.4,342.8 487.4,342.8 487.4,343.1 489.0,343.1 489.0,344.2 490.7,344.2 490.7,345.4 511.7,345.4" stroke="#e3323c" stroke-width="1.20"/>
<polyline points="294.2,217.0 294.8,217.0 294.8,219.2 295.4,219.2 295.4,221.5 295.9,221.5 295.9,223.8 296.5,223.8 296.5,226.0 297.1,226.0 297.1,228.0 297.6,228.0 297.6,230.0 298.2,230.0 298.2,232.0 298.8,232.0 298.8,234.0 299.4,234.0 299.4,236.0 299.9,236.0 299.9,238.0 300.5,238.0 300.5,240.0 301.3,240.0 301.3,242.1 302.0,242.1 302.0,244.1 302.8,244.1 302.8,246.2 303.6,246.2 303.6,248.2 304.3,248.2 304.3,250.3 305.1,250.3 305.1,252.3 305.9,252.3 305.9,254.4 306.6,254.4 306.6,256.4 307.4,256.4 307.4,258.5 308.4,258.5 308.4,260.8 309.5,260.8 309.5,263.1 310.5,263.1 310.5,265.4 312.0,265.4 312.0,268.1 313.5,268.1 313.5,270.8 315.1,270.8 315.1,273.5 316.6,273.5 316.6,276.2 318.6,276.2 318.6,278.1 320.5,278.1 320.5,280.0 322.4,280.0 322.4,282.3 324.3,282.3 324.3,284.6 326.2,284.6 326.2,286.9 328.2,286.9 328.2,289.2 329.1,289.2 329.1,291.1 330.1,291.1 330.1,293.1 331.0,293.1 331.0,295.0 332.5,295.0 332.5,297.8 334.0,297.8 334.0,300.5 335.8,300.5 335.8,302.9 337.6,302.9 337.6,305.2 340.0,305.2 340.0,307.0 342.1,307.0 342.1,309.4 344.1,309.4 344.1,311.7 346.3,311.7 346.3,313.1 348.4,313.1 348.4,314.6 350.6,314.6 350.6,316.0 352.8,316.0 352.8,317.4 354.9,317.4 354.9,318.8 357.1,318.8 357.1,320.2 359.3,320.2 359.3,321.1 361.4,321.1 361.4,321.9 363.6,321.9 363.6,322.8 365.5,322.8 365.5,323.4 367.3,323.4 367.3,324.0 369.2,324.0 369.2,324.6 371.5,324.6 371.5,325.0 373.8,325.0 373.8,325.4 376.1,325.4 376.1,325.6 378.5,325.6 378.5,325.8 380.8,325.8 380.8,326.0 383.1,326.0 383.1,326.2 385.4,326.2 385.4,326.5 387.7,326.5 387.7,326.9 390.8,326.9 390.8,328.5 393.1,328.5 393.1,330.8 395.0,330.8 395.0,332.3 396.9,332.3 396.9,333.8 398.9,333.8 398.9,335.0 400.8,335.0 400.8,336.2 402.7,336.2 402.7,338.1 404.6,338.1 404.6,340.0 407.7,340.0 407.7,342.5 424.6,342.8 426.9,342.8 426.9,344.7 440.5,345.1 443.6,345.1 443.6,347.1 445.6,347.1 445.6,348.1 447.7,348.1 447.7,349.2 475.3,349.2 476.4,349.2 476.4,352.3 511.2,352.3" stroke="#1b1b1b" stroke-width="1.75"/>
<polyline points="294.2,217.0 294.6,217.0 294.6,219.2 294.9,219.2 294.9,221.4 295.3,221.4 295.3,223.6 295.6,223.6 295.6,225.8 296.0,225.8 296.0,228.0 296.5,228.0 296.5,230.4 297.0,230.4 297.0,232.8 297.5,232.8 297.5,235.2 298.0,235.2 298.0,237.6 298.5,237.6 298.5,240.0 299.1,240.0 299.1,242.0 299.8,242.0 299.8,244.0 300.4,244.0 300.4,246.0 301.0,246.0 301.0,248.0 301.8,248.0 301.8,249.9 302.7,249.9 302.7,251.9 303.5,251.9 303.5,253.8 304.0,253.8 304.0,256.0 304.4,256.0 304.4,258.1 304.9,258.1 304.9,260.3 305.3,260.3 305.3,262.4 305.8,262.4 305.8,264.6 306.3,264.6 306.3,266.7 306.9,266.7 306.9,268.7 307.4,268.7 307.4,270.8 307.9,270.8 307.9,272.8 308.4,272.8 308.4,274.9 308.9,274.9 308.9,276.9 309.4,276.9 309.4,279.0 310.0,279.0 310.0,281.0 310.5,281.0 310.5,283.1 311.6,283.1 311.6,285.0 312.8,285.0 312.8,286.9 315.1,286.9 315.1,289.5 316.6,289.5 316.6,292.3 317.9,292.3 317.9,294.4 319.1,294.4 319.1,296.5 320.8,296.5 320.8,299.2 322.4,299.2 322.4,301.9 323.4,301.9 323.4,304.6 324.5,304.6 324.5,307.4 326.1,307.4 326.1,309.5 327.8,309.5 327.8,311.7 331.0,311.7 331.0,313.9 333.2,313.9 333.2,314.6 335.4,314.6 335.4,315.3 337.6,315.3 337.6,316.0 339.8,316.0 339.8,316.6 341.9,316.6 341.9,317.1 347.3,317.1 348.4,317.1 348.4,319.3 349.5,319.3 349.5,321.4 350.6,321.4 350.6,323.6 351.7,323.6 351.7,325.8 352.7,325.8 352.7,327.9 353.8,327.9 353.8,330.1 355.5,330.1 355.5,332.3 357.1,332.3 357.1,334.5 359.2,334.5 359.2,335.1 361.4,335.1 361.4,335.6 366.2,335.6 367.7,335.6 367.7,338.5 369.9,338.5 369.9,338.6 372.1,338.6 372.1,338.7 374.3,338.7 374.3,338.8 376.5,338.8 376.5,338.9 378.7,338.9 378.7,339.0 380.9,339.0 380.9,339.1 383.1,339.1 383.1,339.2 385.4,339.2 385.4,341.5 388.5,341.5 388.5,343.1 390.4,343.1 390.4,343.9 392.3,343.9 392.3,344.6 395.4,344.6 395.4,346.9 397.3,346.9 397.3,348.4 399.2,348.4 399.2,350.0 400.4,350.0 400.4,352.7 401.5,352.7 401.5,355.4 402.3,355.4 402.3,357.4 403.0,357.4 403.0,359.3 403.8,359.3 403.8,361.3 439.3,361.3 439.5,366.2 488.8,366.2" stroke="#e3323c" stroke-width="1.20"/>
<polyline points="294.2,217.0 294.6,217.0 294.6,219.2 294.9,219.2 294.9,221.4 295.3,221.4 295.3,223.6 295.6,223.6 295.6,225.8 296.0,225.8 296.0,228.0 296.6,228.0 296.6,230.4 297.2,230.4 297.2,232.8 297.7,232.8 297.7,235.2 298.3,235.2 298.3,237.6 298.9,237.6 298.9,240.0 299.2,240.0 299.2,242.1 299.4,242.1 299.4,244.1 299.7,244.1 299.7,246.2 300.0,246.2 300.0,248.2 300.2,248.2 300.2,250.2 300.5,250.2 300.5,252.3 301.3,252.3 301.3,254.4 302.0,254.4 302.0,256.4 302.8,256.4 302.8,258.5 303.6,258.5 303.6,260.5 304.3,260.5 304.3,262.6 305.1,262.6 305.1,264.6 305.6,264.6 305.6,266.7 306.1,266.7 306.1,268.7 306.6,268.7 306.6,270.8 307.1,270.8 307.1,272.8 307.7,272.8 307.7,274.9 308.2,274.9 308.2,276.9 308.4,276.9 308.4,279.0 308.7,279.0 308.7,281.0 308.9,281.0 308.9,283.1 309.4,283.1 309.4,285.1 310.0,285.1 310.0,287.2 310.5,287.2 310.5,289.2 312.0,289.2 312.0,291.5 315.1,291.5 315.1,292.3 316.6,292.3 316.6,295.4 317.9,295.4 317.9,297.0 319.1,297.0 319.1,298.7 321.3,298.7 321.3,300.9 323.5,300.9 323.5,303.0 324.2,303.0 324.2,305.5 324.9,305.5 324.9,308.1 325.6,308.1 325.6,310.6 327.8,310.6 327.8,313.9 331.0,313.9 331.0,314.9 332.6,314.9 332.6,316.0 334.3,316.0 334.3,317.1 336.5,317.1 336.5,317.6 338.6,317.6 338.6,318.2 341.9,318.2 341.9,320.4 347.3,320.4 348.4,320.4 348.4,322.5 349.5,322.5 349.5,324.7 350.6,324.7 350.6,327.4 351.7,327.4 351.7,330.1 353.3,330.1 353.3,332.9 354.9,332.9 354.9,335.6 356.0,335.6 356.0,338.5 366.2,338.5 366.9,338.5 366.9,340.8 369.2,340.8 369.2,340.9 371.5,340.9 371.5,341.0 373.8,341.0 373.8,341.1 376.2,341.1 376.2,341.2 378.5,341.2 378.5,341.3 380.8,341.3 380.8,341.4 383.1,341.4 383.1,341.5 384.6,341.5 384.6,344.6 386.9,344.6 386.9,346.9 388.1,346.9 388.1,348.0 388.7,353.8 401.3,353.8 402.2,353.8 402.2,356.4 403.1,356.4 403.1,359.0 439.3,359.0 439.5,364.3 501.0,364.3 501.0,377.0" stroke="#1b1b1b" stroke-width="1.75"/>
<polyline points="294.2,217.0 294.5,217.0 294.5,219.1 294.9,219.1 294.9,221.3 295.2,221.3 295.2,223.4 295.5,223.4 295.5,225.6 295.8,225.6 295.8,227.7 296.2,227.7 296.2,229.9 296.5,229.9 296.5,232.0 296.8,232.0 296.8,234.2 297.2,234.2 297.2,236.3 297.5,236.3 297.5,238.5 297.8,238.5 297.8,240.7 298.2,240.7 298.2,242.8 298.5,242.8 298.5,245.0 298.8,245.0 298.8,247.1 299.1,247.1 299.1,249.3 299.4,249.3 299.4,251.4 299.6,251.4 299.6,253.6 299.9,253.6 299.9,255.7 300.2,255.7 300.2,257.9 300.5,257.9 300.5,260.0 300.8,260.0 300.8,262.2 301.0,262.2 301.0,264.5 301.2,264.5 301.2,266.8 301.5,266.8 301.5,269.0 301.8,269.0 301.8,271.2 302.0,271.2 302.0,273.5 302.2,273.5 302.2,275.8 302.5,275.8 302.5,278.0 302.8,278.0 302.8,280.4 303.1,280.4 303.1,282.8 303.3,282.8 303.3,285.2 303.6,285.2 303.6,287.6 303.9,287.6 303.9,290.0 304.1,290.0 304.1,292.2 304.4,292.2 304.4,294.3 304.6,294.3 304.6,296.5 304.9,296.5 304.9,298.7 305.1,298.7 305.1,300.8 305.4,300.8 305.4,303.0 305.6,303.0 305.6,305.2 305.9,305.2 305.9,307.3 306.1,307.3 306.1,309.5 306.8,309.5 306.8,311.9 307.4,311.9 307.4,314.3 308.1,314.3 308.1,316.7 308.7,316.7 308.7,319.1 309.4,319.1 309.4,321.5 312.6,321.5 312.6,324.7 314.2,324.7 314.2,327.4 315.9,327.4 315.9,330.1 317.0,330.1 317.0,332.6 318.0,332.6 318.0,335.2 319.1,335.2 319.1,337.7 321.3,337.7 321.3,339.4 323.5,339.4 323.5,341.0 326.7,341.0 326.7,343.1 328.9,343.1 328.9,344.2 331.0,344.2 331.0,345.3 333.2,345.3 333.2,346.4 335.4,346.4 335.4,346.7 337.5,346.7 337.5,346.9 339.7,346.9 339.7,347.2 341.9,347.2 341.9,347.5 344.4,347.5 344.4,347.9 347.0,347.9 347.0,348.2 349.5,348.2 349.5,348.6 350.2,348.6 350.2,350.8 351.0,350.8 351.0,352.9 351.7,352.9 351.7,355.1 352.2,355.1 352.2,357.2 352.7,357.2 352.7,359.4 387.5,359.4 387.5,363.6 402.5,363.6 402.5,367.6 488.8,367.6" stroke="#e3323c" stroke-width="1.20"/>
<polyline points="294.2,217.0 294.5,217.0 294.5,219.2 294.8,219.2 294.8,221.3 295.1,221.3 295.1,223.5 295.4,223.5 295.4,225.7 295.7,225.7 295.7,227.8 296.0,227.8 296.0,230.0 296.4,230.0 296.4,232.0 296.9,232.0 296.9,234.0 297.3,234.0 297.3,236.0 297.8,236.0 297.8,238.0 298.2,238.0 298.2,240.0 298.4,240.0 298.4,242.2 298.6,242.2 298.6,244.4 298.8,244.4 298.8,246.6 299.1,246.6 299.1,248.8 299.3,248.8 299.3,251.0 299.5,251.0 299.5,253.2 299.7,253.2 299.7,255.4 299.8,255.4 299.8,257.7 300.0,257.7 300.0,260.0 300.1,260.0 300.1,262.3 300.3,262.3 300.3,264.6 300.4,264.6 300.4,266.9 300.6,266.9 300.6,269.3 300.8,269.3 300.8,271.6 300.9,271.6 300.9,273.9 301.1,273.9 301.1,276.2 301.2,276.2 301.2,278.5 301.3,278.5 301.3,280.8 301.4,280.8 301.4,283.1 301.6,283.1 301.6,285.4 301.7,285.4 301.7,287.7 301.8,287.7 301.8,290.0 302.1,290.0 302.1,292.2 302.3,292.2 302.3,294.4 302.6,294.4 302.6,296.5 302.9,296.5 302.9,298.7 303.1,298.7 303.1,300.9 303.4,300.9 303.4,303.0 303.6,303.0 303.6,305.2 303.9,305.2 303.9,307.4 304.2,307.4 304.2,309.6 304.4,309.6 304.4,311.7 304.7,311.7 304.7,313.9 305.0,313.9 305.0,316.0 305.3,316.0 305.3,318.2 305.6,318.2 305.6,320.4 305.8,320.4 305.8,322.5 306.1,322.5 306.1,324.7 307.2,324.7 307.2,327.4 308.3,327.4 308.3,330.1 310.5,330.1 310.5,331.2 312.6,331.2 312.6,332.3 315.9,332.3 315.9,333.4 316.2,333.4 316.2,335.6 316.4,335.6 316.4,337.8 316.7,337.8 316.7,339.9 317.0,339.9 317.0,342.1 317.4,342.1 317.4,344.3 317.8,344.3 317.8,346.4 318.3,346.4 318.3,348.6 318.7,348.6 318.7,350.7 319.1,350.7 319.1,352.9 332.1,352.9 333.2,352.9 333.2,355.1 335.4,355.1 335.4,355.4 337.5,355.4 337.5,355.6 339.7,355.6 339.7,355.9 341.9,355.9 341.9,356.2 342.4,356.2 342.4,358.4 343.0,358.4 343.0,360.5 351.7,360.5 352.2,360.5 352.2,362.4 352.7,362.4 352.7,364.3 488.3,364.3" stroke="#1b1b1b" stroke-width="1.75"/>
<line x1="99.0" y1="62.6" x2="99.0" y2="66.0" stroke="#1b1b1b" stroke-width="0.9"/>
<line x1="104.0" y1="63.4" x2="104.0" y2="66.8" stroke="#1b1b1b" stroke-width="0.9"/>
<line x1="117.0" y1="67.6" x2="117.0" y2="71.0" stroke="#1b1b1b" stroke-width="0.9"/>
<line x1="126.4" y1="71.0" x2="126.4" y2="74.4" stroke="#1b1b1b" stroke-width="0.9"/>
<line x1="130.0" y1="71.0" x2="130.0" y2="74.4" stroke="#1b1b1b" stroke-width="0.9"/>
<line x1="151.9" y1="82.1" x2="151.9" y2="85.5" stroke="#1b1b1b" stroke-width="0.9"/>
<line x1="161.0" y1="82.4" x2="161.0" y2="85.8" stroke="#1b1b1b" stroke-width="0.9"/>
<line x1="163.8" y1="84.1" x2="163.8" y2="87.5" stroke="#1b1b1b" stroke-width="0.9"/>
<line x1="172.9" y1="87.6" x2="172.9" y2="91.0" stroke="#1b1b1b" stroke-width="0.9"/>
<line x1="181.1" y1="87.6" x2="181.1" y2="91.0" stroke="#1b1b1b" stroke-width="0.9"/>
<line x1="187.5" y1="87.6" x2="187.5" y2="91.0" stroke="#1b1b1b" stroke-width="0.9"/>
<line x1="198.5" y1="87.6" x2="198.5" y2="91.0" stroke="#1b1b1b" stroke-width="0.9"/>
<line x1="201.2" y1="87.6" x2="201.2" y2="91.0" stroke="#1b1b1b" stroke-width="0.9"/>
<line x1="204.0" y1="87.6" x2="204.0" y2="91.0" stroke="#1b1b1b" stroke-width="0.9"/>
<line x1="218.6" y1="98.0" x2="218.6" y2="101.4" stroke="#1b1b1b" stroke-width="0.9"/>
<line x1="222.3" y1="98.0" x2="222.3" y2="101.4" stroke="#1b1b1b" stroke-width="0.9"/>
<line x1="225.9" y1="98.0" x2="225.9" y2="101.4" stroke="#1b1b1b" stroke-width="0.9"/>
<line x1="230.5" y1="98.0" x2="230.5" y2="101.4" stroke="#1b1b1b" stroke-width="0.9"/>
<rect x="229.5" y="97.9" width="2" height="3.6" fill="#1b1b1b"/>
<line x1="104.0" y1="92.5" x2="104.0" y2="95.9" stroke="#e0282c" stroke-width="0.9"/>
<line x1="112.0" y1="95.8" x2="112.0" y2="99.2" stroke="#e0282c" stroke-width="0.9"/>
<line x1="146.4" y1="114.9" x2="146.4" y2="118.3" stroke="#e0282c" stroke-width="0.9"/>
<line x1="157.4" y1="119.1" x2="157.4" y2="122.5" stroke="#e0282c" stroke-width="0.9"/>
<line x1="160.1" y1="119.1" x2="160.1" y2="122.5" stroke="#e0282c" stroke-width="0.9"/>
<line x1="162.9" y1="119.1" x2="162.9" y2="122.5" stroke="#e0282c" stroke-width="0.9"/>
<line x1="167.4" y1="119.1" x2="167.4" y2="122.5" stroke="#e0282c" stroke-width="0.9"/>
<line x1="172.9" y1="121.1" x2="172.9" y2="124.5" stroke="#e0282c" stroke-width="0.9"/>
<line x1="188.4" y1="121.1" x2="188.4" y2="124.5" stroke="#e0282c" stroke-width="0.9"/>
<line x1="204.9" y1="121.1" x2="204.9" y2="124.5" stroke="#e0282c" stroke-width="0.9"/>
<line x1="210.4" y1="121.1" x2="210.4" y2="124.5" stroke="#e0282c" stroke-width="0.9"/>
<line x1="216.8" y1="121.1" x2="216.8" y2="124.5" stroke="#e0282c" stroke-width="0.9"/>
<line x1="221.4" y1="121.1" x2="221.4" y2="124.5" stroke="#e0282c" stroke-width="0.9"/>
<line x1="230.5" y1="121.1" x2="230.5" y2="124.5" stroke="#e0282c" stroke-width="0.9"/>
<rect x="229.5" y="121.0" width="2" height="3.6" fill="#e0282c"/>
<line x1="112.0" y1="120.0" x2="112.0" y2="123.4" stroke="#2a8440" stroke-width="0.9"/>
<line x1="118.7" y1="122.9" x2="118.7" y2="126.3" stroke="#2a8440" stroke-width="0.9"/>
<line x1="142.7" y1="134.7" x2="142.7" y2="138.1" stroke="#2a8440" stroke-width="0.9"/>
<line x1="167.0" y1="134.7" x2="167.0" y2="138.1" stroke="#2a8440" stroke-width="0.9"/>
<line x1="174.4" y1="134.7" x2="174.4" y2="138.1" stroke="#2a8440" stroke-width="0.9"/>
<line x1="222.0" y1="134.7" x2="222.0" y2="138.1" stroke="#2a8440" stroke-width="0.9"/>
<line x1="98.5" y1="136.5" x2="98.5" y2="139.9" stroke="#682676" stroke-width="0.9"/>
<line x1="109.1" y1="136.5" x2="109.1" y2="139.9" stroke="#682676" stroke-width="0.9"/>
<line x1="174.4" y1="136.5" x2="174.4" y2="139.9" stroke="#682676" stroke-width="0.9"/>
<line x1="210.4" y1="136.5" x2="210.4" y2="139.9" stroke="#682676" stroke-width="0.9"/>
<line x1="384.0" y1="90.8" x2="384.0" y2="94.2" stroke="#1b1b1b" stroke-width="0.9"/>
<line x1="406.3" y1="105.2" x2="406.3" y2="108.6" stroke="#1b1b1b" stroke-width="0.9"/>
<line x1="416.4" y1="108.3" x2="416.4" y2="111.7" stroke="#1b1b1b" stroke-width="0.9"/>
<line x1="419.4" y1="109.1" x2="419.4" y2="112.5" stroke="#1b1b1b" stroke-width="0.9"/>
<line x1="425.5" y1="110.6" x2="425.5" y2="114.0" stroke="#1b1b1b" stroke-width="0.9"/>
<line x1="448.7" y1="115.6" x2="448.7" y2="119.0" stroke="#1b1b1b" stroke-width="0.9"/>
<line x1="450.7" y1="115.6" x2="450.7" y2="119.0" stroke="#1b1b1b" stroke-width="0.9"/>
<line x1="452.7" y1="115.6" x2="452.7" y2="119.0" stroke="#1b1b1b" stroke-width="0.9"/>
<line x1="466.9" y1="122.1" x2="466.9" y2="125.5" stroke="#1b1b1b" stroke-width="0.9"/>
<line x1="470.9" y1="122.1" x2="470.9" y2="125.5" stroke="#1b1b1b" stroke-width="0.9"/>
<line x1="474.9" y1="122.1" x2="474.9" y2="125.5" stroke="#1b1b1b" stroke-width="0.9"/>
<line x1="480.0" y1="122.1" x2="480.0" y2="125.5" stroke="#1b1b1b" stroke-width="0.9"/>
<rect x="478.9" y="122.0" width="2" height="3.6" fill="#1b1b1b"/>
<line x1="397.2" y1="121.1" x2="397.2" y2="124.5" stroke="#e0282c" stroke-width="0.9"/>
<line x1="407.3" y1="123.1" x2="407.3" y2="126.5" stroke="#e0282c" stroke-width="0.9"/>
<line x1="410.3" y1="123.3" x2="410.3" y2="126.7" stroke="#e0282c" stroke-width="0.9"/>
<line x1="413.3" y1="123.3" x2="413.3" y2="126.7" stroke="#e0282c" stroke-width="0.9"/>
<line x1="416.4" y1="123.3" x2="416.4" y2="126.7" stroke="#e0282c" stroke-width="0.9"/>
<line x1="438.6" y1="126.6" x2="438.6" y2="130.0" stroke="#e0282c" stroke-width="0.9"/>
<line x1="450.7" y1="126.6" x2="450.7" y2="130.0" stroke="#e0282c" stroke-width="0.9"/>
<line x1="455.8" y1="129.5" x2="455.8" y2="132.9" stroke="#e0282c" stroke-width="0.9"/>
<line x1="463.8" y1="129.5" x2="463.8" y2="132.9" stroke="#e0282c" stroke-width="0.9"/>
<line x1="470.9" y1="129.5" x2="470.9" y2="132.9" stroke="#e0282c" stroke-width="0.9"/>
<line x1="480.0" y1="129.5" x2="480.0" y2="132.9" stroke="#e0282c" stroke-width="0.9"/>
<rect x="478.9" y="129.4" width="2" height="3.6" fill="#e0282c"/>
<line x1="394.1" y1="134.8" x2="394.1" y2="138.2" stroke="#2a8440" stroke-width="0.9"/>
<line x1="425.5" y1="139.5" x2="425.5" y2="142.9" stroke="#2a8440" stroke-width="0.9"/>
<line x1="350.0" y1="139.6" x2="350.0" y2="143.0" stroke="#682676" stroke-width="0.9"/>
<line x1="425.5" y1="139.6" x2="425.5" y2="143.0" stroke="#682676" stroke-width="0.9"/>
<line x1="460.8" y1="139.6" x2="460.8" y2="143.0" stroke="#682676" stroke-width="0.9"/>
<line x1="147.0" y1="284.7" x2="147.0" y2="288.1" stroke="#1b1b1b" stroke-width="0.9"/>
<line x1="162.3" y1="293.2" x2="162.3" y2="296.6" stroke="#1b1b1b" stroke-width="0.9"/>
<line x1="169.3" y1="298.3" x2="169.3" y2="301.7" stroke="#1b1b1b" stroke-width="0.9"/>
<line x1="182.3" y1="300.3" x2="182.3" y2="303.7" stroke="#1b1b1b" stroke-width="0.9"/>
<line x1="194.0" y1="303.7" x2="194.0" y2="307.1" stroke="#1b1b1b" stroke-width="0.9"/>
<line x1="203.4" y1="303.7" x2="203.4" y2="307.1" stroke="#1b1b1b" stroke-width="0.9"/>
<line x1="210.4" y1="303.7" x2="210.4" y2="307.1" stroke="#1b1b1b" stroke-width="0.9"/>
<line x1="223.3" y1="303.7" x2="223.3" y2="307.1" stroke="#1b1b1b" stroke-width="0.9"/>
<line x1="226.9" y1="303.7" x2="226.9" y2="307.1" stroke="#1b1b1b" stroke-width="0.9"/>
<line x1="229.2" y1="303.7" x2="229.2" y2="307.1" stroke="#1b1b1b" stroke-width="0.9"/>
<line x1="245.6" y1="315.5" x2="245.6" y2="318.9" stroke="#1b1b1b" stroke-width="0.9"/>
<line x1="252.7" y1="315.5" x2="252.7" y2="318.9" stroke="#1b1b1b" stroke-width="0.9"/>
<line x1="259.2" y1="315.5" x2="259.2" y2="318.9" stroke="#1b1b1b" stroke-width="0.9"/>
<rect x="258.4" y="315.4" width="2" height="3.6" fill="#1b1b1b"/>
<line x1="147.0" y1="305.8" x2="147.0" y2="309.2" stroke="#e3323c" stroke-width="0.9"/>
<line x1="157.6" y1="311.6" x2="157.6" y2="315.0" stroke="#e3323c" stroke-width="0.9"/>
<line x1="162.3" y1="313.1" x2="162.3" y2="316.5" stroke="#e3323c" stroke-width="0.9"/>
<line x1="168.2" y1="315.3" x2="168.2" y2="318.7" stroke="#e3323c" stroke-width="0.9"/>
<line x1="171.7" y1="316.2" x2="171.7" y2="319.6" stroke="#e3323c" stroke-width="0.9"/>
<line x1="177.6" y1="317.1" x2="177.6" y2="320.5" stroke="#e3323c" stroke-width="0.9"/>
<line x1="181.1" y1="317.7" x2="181.1" y2="321.1" stroke="#e3323c" stroke-width="0.9"/>
<line x1="183.4" y1="318.3" x2="183.4" y2="321.7" stroke="#e3323c" stroke-width="0.9"/>
<line x1="194.0" y1="322.7" x2="194.0" y2="326.1" stroke="#e3323c" stroke-width="0.9"/>
<line x1="202.2" y1="322.7" x2="202.2" y2="326.1" stroke="#e3323c" stroke-width="0.9"/>
<line x1="210.4" y1="322.7" x2="210.4" y2="326.1" stroke="#e3323c" stroke-width="0.9"/>
<line x1="223.3" y1="322.7" x2="223.3" y2="326.1" stroke="#e3323c" stroke-width="0.9"/>
<line x1="226.9" y1="322.7" x2="226.9" y2="326.1" stroke="#e3323c" stroke-width="0.9"/>
<line x1="230.4" y1="322.7" x2="230.4" y2="326.1" stroke="#e3323c" stroke-width="0.9"/>
<line x1="240.9" y1="326.7" x2="240.9" y2="330.1" stroke="#e3323c" stroke-width="0.9"/>
<line x1="245.6" y1="326.9" x2="245.6" y2="330.3" stroke="#e3323c" stroke-width="0.9"/>
<line x1="250.3" y1="327.0" x2="250.3" y2="330.4" stroke="#e3323c" stroke-width="0.9"/>
<line x1="255.0" y1="327.1" x2="255.0" y2="330.5" stroke="#e3323c" stroke-width="0.9"/>
<line x1="259.2" y1="327.2" x2="259.2" y2="330.6" stroke="#e3323c" stroke-width="0.9"/>
<rect x="258.4" y="327.1" width="2" height="3.6" fill="#e3323c"/>
<line x1="115.2" y1="310.1" x2="115.2" y2="313.5" stroke="#1b1b1b" stroke-width="0.9"/>
<line x1="121.9" y1="313.2" x2="121.9" y2="316.6" stroke="#1b1b1b" stroke-width="0.9"/>
<line x1="132.0" y1="315.5" x2="132.0" y2="318.9" stroke="#1b1b1b" stroke-width="0.9"/>
<line x1="135.4" y1="316.0" x2="135.4" y2="319.4" stroke="#1b1b1b" stroke-width="0.9"/>
<line x1="169.2" y1="336.1" x2="169.2" y2="339.5" stroke="#1b1b1b" stroke-width="0.9"/>
<line x1="179.8" y1="339.6" x2="179.8" y2="343.0" stroke="#1b1b1b" stroke-width="0.9"/>
<line x1="182.4" y1="339.7" x2="182.4" y2="343.1" stroke="#1b1b1b" stroke-width="0.9"/>
<line x1="194.4" y1="342.0" x2="194.4" y2="345.4" stroke="#1b1b1b" stroke-width="0.9"/>
<line x1="210.4" y1="342.0" x2="210.4" y2="345.4" stroke="#1b1b1b" stroke-width="0.9"/>
<line x1="230.6" y1="342.0" x2="230.6" y2="345.4" stroke="#1b1b1b" stroke-width="0.9"/>
<line x1="235.1" y1="342.0" x2="235.1" y2="345.4" stroke="#1b1b1b" stroke-width="0.9"/>
<line x1="249.4" y1="342.0" x2="249.4" y2="345.4" stroke="#1b1b1b" stroke-width="0.9"/>
<line x1="259.2" y1="342.0" x2="259.2" y2="345.4" stroke="#1b1b1b" stroke-width="0.9"/>
<rect x="258.4" y="341.9" width="2" height="3.6" fill="#1b1b1b"/>
<line x1="111.0" y1="326.8" x2="111.0" y2="330.2" stroke="#e3323c" stroke-width="0.9"/>
<line x1="118.5" y1="330.3" x2="118.5" y2="333.7" stroke="#e3323c" stroke-width="0.9"/>
<line x1="123.6" y1="332.2" x2="123.6" y2="335.6" stroke="#e3323c" stroke-width="0.9"/>
<line x1="132.9" y1="335.0" x2="132.9" y2="338.4" stroke="#e3323c" stroke-width="0.9"/>
<line x1="136.3" y1="336.6" x2="136.3" y2="340.0" stroke="#e3323c" stroke-width="0.9"/>
<line x1="139.6" y1="338.5" x2="139.6" y2="341.9" stroke="#e3323c" stroke-width="0.9"/>
<line x1="143.0" y1="340.9" x2="143.0" y2="344.3" stroke="#e3323c" stroke-width="0.9"/>
<line x1="147.2" y1="343.4" x2="147.2" y2="346.8" stroke="#e3323c" stroke-width="0.9"/>
<line x1="181.1" y1="351.9" x2="181.1" y2="355.3" stroke="#e3323c" stroke-width="0.9"/>
<line x1="185.1" y1="351.9" x2="185.1" y2="355.3" stroke="#e3323c" stroke-width="0.9"/>
<line x1="195.7" y1="351.9" x2="195.7" y2="355.3" stroke="#e3323c" stroke-width="0.9"/>
<line x1="211.6" y1="351.9" x2="211.6" y2="355.3" stroke="#e3323c" stroke-width="0.9"/>
<line x1="250.1" y1="351.9" x2="250.1" y2="355.3" stroke="#e3323c" stroke-width="0.9"/>
<line x1="123.6" y1="340.8" x2="123.6" y2="344.2" stroke="#1b1b1b" stroke-width="0.9"/>
<line x1="187.7" y1="357.3" x2="187.7" y2="360.7" stroke="#1b1b1b" stroke-width="0.9"/>
<line x1="195.7" y1="357.3" x2="195.7" y2="360.7" stroke="#1b1b1b" stroke-width="0.9"/>
<line x1="250.1" y1="357.3" x2="250.1" y2="360.7" stroke="#1b1b1b" stroke-width="0.9"/>
<line x1="109.3" y1="356.8" x2="109.3" y2="360.2" stroke="#e3323c" stroke-width="0.9"/>
<line x1="121.1" y1="356.8" x2="121.1" y2="360.2" stroke="#e3323c" stroke-width="0.9"/>
<line x1="195.7" y1="365.4" x2="195.7" y2="368.8" stroke="#e3323c" stroke-width="0.9"/>
<line x1="236.8" y1="365.4" x2="236.8" y2="368.8" stroke="#e3323c" stroke-width="0.9"/>
<line x1="236.8" y1="358.9" x2="236.8" y2="362.3" stroke="#1b1b1b" stroke-width="0.9"/>
<line x1="435.4" y1="326.3" x2="435.4" y2="329.7" stroke="#1b1b1b" stroke-width="0.9"/>
<line x1="439.8" y1="327.6" x2="439.8" y2="331.0" stroke="#1b1b1b" stroke-width="0.9"/>
<line x1="475.2" y1="334.8" x2="475.2" y2="338.2" stroke="#1b1b1b" stroke-width="0.9"/>
<line x1="477.4" y1="334.8" x2="477.4" y2="338.2" stroke="#1b1b1b" stroke-width="0.9"/>
<line x1="480.8" y1="334.8" x2="480.8" y2="338.2" stroke="#1b1b1b" stroke-width="0.9"/>
<line x1="495.1" y1="341.3" x2="495.1" y2="344.7" stroke="#1b1b1b" stroke-width="0.9"/>
<line x1="500.7" y1="341.3" x2="500.7" y2="344.7" stroke="#1b1b1b" stroke-width="0.9"/>
<line x1="506.2" y1="341.3" x2="506.2" y2="344.7" stroke="#1b1b1b" stroke-width="0.9"/>
<line x1="511.7" y1="341.3" x2="511.7" y2="344.7" stroke="#1b1b1b" stroke-width="0.9"/>
<rect x="510.2" y="341.2" width="2" height="3.6" fill="#1b1b1b"/>
<line x1="406.0" y1="320.2" x2="406.0" y2="323.6" stroke="#e3323c" stroke-width="0.9"/>
<line x1="413.0" y1="325.4" x2="413.0" y2="328.8" stroke="#e3323c" stroke-width="0.9"/>
<line x1="420.0" y1="328.2" x2="420.0" y2="331.6" stroke="#e3323c" stroke-width="0.9"/>
<line x1="426.0" y1="330.2" x2="426.0" y2="333.6" stroke="#e3323c" stroke-width="0.9"/>
<line x1="435.0" y1="332.5" x2="435.0" y2="335.9" stroke="#e3323c" stroke-width="0.9"/>
<line x1="442.0" y1="334.8" x2="442.0" y2="338.2" stroke="#e3323c" stroke-width="0.9"/>
<line x1="450.0" y1="336.8" x2="450.0" y2="340.2" stroke="#e3323c" stroke-width="0.9"/>
<line x1="475.0" y1="339.2" x2="475.0" y2="342.6" stroke="#e3323c" stroke-width="0.9"/>
<line x1="480.0" y1="340.4" x2="480.0" y2="343.8" stroke="#e3323c" stroke-width="0.9"/>
<line x1="490.0" y1="343.2" x2="490.0" y2="346.6" stroke="#e3323c" stroke-width="0.9"/>
<line x1="495.0" y1="343.7" x2="495.0" y2="347.1" stroke="#e3323c" stroke-width="0.9"/>
<line x1="500.0" y1="343.7" x2="500.0" y2="347.1" stroke="#e3323c" stroke-width="0.9"/>
<line x1="506.0" y1="343.7" x2="506.0" y2="347.1" stroke="#e3323c" stroke-width="0.9"/>
<line x1="511.7" y1="343.7" x2="511.7" y2="347.1" stroke="#e3323c" stroke-width="0.9"/>
<rect x="510.7" y="343.6" width="2" height="3.6" fill="#e3323c"/>
<line x1="415.0" y1="340.9" x2="415.0" y2="344.3" stroke="#1b1b1b" stroke-width="0.9"/>
<line x1="431.0" y1="343.1" x2="431.0" y2="346.5" stroke="#1b1b1b" stroke-width="0.9"/>
<line x1="435.0" y1="343.2" x2="435.0" y2="346.6" stroke="#1b1b1b" stroke-width="0.9"/>
<line x1="440.0" y1="343.4" x2="440.0" y2="346.8" stroke="#1b1b1b" stroke-width="0.9"/>
<line x1="445.0" y1="346.1" x2="445.0" y2="349.5" stroke="#1b1b1b" stroke-width="0.9"/>
<line x1="462.0" y1="347.5" x2="462.0" y2="350.9" stroke="#1b1b1b" stroke-width="0.9"/>
<line x1="480.0" y1="350.6" x2="480.0" y2="354.0" stroke="#1b1b1b" stroke-width="0.9"/>
<line x1="500.0" y1="350.6" x2="500.0" y2="354.0" stroke="#1b1b1b" stroke-width="0.9"/>
<line x1="511.7" y1="350.6" x2="511.7" y2="354.0" stroke="#1b1b1b" stroke-width="0.9"/>
<rect x="510.2" y="350.5" width="2" height="3.6" fill="#1b1b1b"/>
<line x1="450.0" y1="364.5" x2="450.0" y2="367.9" stroke="#e3323c" stroke-width="0.9"/>
<line x1="488.8" y1="364.5" x2="488.8" y2="367.9" stroke="#e3323c" stroke-width="0.9"/>
<line x1="420.0" y1="357.3" x2="420.0" y2="360.7" stroke="#1b1b1b" stroke-width="0.9"/>
<line x1="445.0" y1="362.6" x2="445.0" y2="366.0" stroke="#1b1b1b" stroke-width="0.9"/>
<line x1="416.0" y1="365.9" x2="416.0" y2="369.3" stroke="#e3323c" stroke-width="0.9"/>
<line x1="488.3" y1="362.6" x2="488.3" y2="366.0" stroke="#1b1b1b" stroke-width="0.9"/>
<line x1="84.6" y1="8.8" x2="112.6" y2="8.8" stroke="#1b1b1b" stroke-width="1.5"/>
<text transform="translate(119.2,12.6) scale(1,1.13)" class="lg">Favorable (0 “points”; n=129)</text>
<line x1="84.6" y1="23.1" x2="112.6" y2="23.1" stroke="#e0282c" stroke-width="1.5"/>
<text transform="translate(119.2,26.9) scale(1,1.13)" class="lg">Intermediate 1 (1 “point”; n=166)</text>
<line x1="84.6" y1="37.4" x2="112.6" y2="37.4" stroke="#2a8440" stroke-width="1.5"/>
<text transform="translate(119.2,41.0) scale(1,1.13)" class="lg">Intermediate 2 (2 “points”; n=55)</text>
<line x1="84.6" y1="52.4" x2="112.6" y2="52.4" stroke="#55507a" stroke-width="1.5"/>
<text transform="translate(119.2,55.4) scale(1,1.13)" class="lg">Unfavorable (3 “points”; n=46)</text>
<line x1="336.9" y1="8.8" x2="364.9" y2="8.8" stroke="#1b1b1b" stroke-width="1.5"/>
<text transform="translate(371.5,12.6) scale(1,1.13)" class="lg">Favorable (0 “points”; n=129)</text>
<line x1="336.9" y1="23.1" x2="364.9" y2="23.1" stroke="#e0282c" stroke-width="1.5"/>
<text transform="translate(371.5,26.9) scale(1,1.13)" class="lg">Intermediate 1 (1 “point”; n=166)</text>
<line x1="336.9" y1="37.4" x2="364.9" y2="37.4" stroke="#2a8440" stroke-width="1.5"/>
<text transform="translate(371.5,41.0) scale(1,1.13)" class="lg">Intermediate 2 (2 “points”; n=55)</text>
<line x1="336.9" y1="52.4" x2="364.9" y2="52.4" stroke="#55507a" stroke-width="1.5"/>
<text transform="translate(371.5,55.4) scale(1,1.13)" class="lg">Unfavorable (3 “points”; n=46)</text>
<line x1="80.2" y1="229.8" x2="107.0" y2="229.8" stroke="#1b1b1b" stroke-width="1.5"/>
<line x1="80.2" y1="254.5" x2="107.0" y2="254.5" stroke="#e0282c" stroke-width="1.5"/>
<text transform="translate(113.9,222.4) scale(1,1.13)" class="lg">Risk groups based on both</text>
<text transform="translate(113.9,232.3) scale(1,1.13)" class="lg">metaphase cytogenetics and</text>
<text transform="translate(113.9,242.3) scale(1,1.13)" class="lg">additional lesions bySNP-A results</text>
<text transform="translate(111.7,257.6) scale(1,1.13)" class="lg" style="fill:#d41820">Metaphase cytogenetics alone</text>
<line x1="339.8" y1="229.8" x2="366.6" y2="229.8" stroke="#1b1b1b" stroke-width="1.5"/>
<line x1="339.8" y1="254.5" x2="366.6" y2="254.5" stroke="#e0282c" stroke-width="1.5"/>
<text transform="translate(373.5,222.4) scale(1,1.13)" class="lg">Risk groups based on both</text>
<text transform="translate(373.5,232.3) scale(1,1.13)" class="lg">metaphase cytogenetics and</text>
<text transform="translate(373.5,242.3) scale(1,1.13)" class="lg">additional lesions bySNP-A results</text>
<text transform="translate(371.3,257.6) scale(1,1.13)" class="lg" style="fill:#d41820">Metaphase cytogenetics alone</text>

<text x="2.4" y="11.7" class="pl">A</text>
<text x="259.6" y="11.8" class="pl">B</text>
<text x="0.6" y="217.4" class="pl" style="font-size:14px">C</text>
<text x="259.4" y="217.4" class="pl" style="font-size:14px">D</text>
<text class="ax" style="font-size:9.95px" transform="translate(15.5,90.4) rotate(-90) scale(1,1.12)" text-anchor="middle">% Survival</text>
<text class="ax" style="font-size:10px" transform="translate(272.0,87.5) rotate(-90) scale(1,1.12)" text-anchor="middle">% Event-Free</text>
<text class="ax" style="font-size:9.95px" transform="translate(15.1,310.9) rotate(-90) scale(1,1.12)" text-anchor="middle">% Survival</text>
<text class="ax" style="font-size:10px" transform="translate(271.6,311.3) rotate(-90) scale(1,1.12)" text-anchor="middle">% Event-Free</text>
<text transform="translate(92.7,183.8) scale(1,1.1)" class="ax" style="font-size:9.7px">OS (months)<tspan class="dg" dx="0.7" dy="-3.2">†</tspan></text>
<text transform="translate(347.8,183.8) scale(1,1.1)" class="ax" style="font-size:9.6px">EFS (months)<tspan class="dg" dx="0.7" dy="-3.2">†</tspan></text>
<text transform="translate(101.4,409.5) scale(1,1.1)" class="ax" style="font-size:10.1px">OS (months)</text>
<text transform="translate(349.5,409.3) scale(1,1.1)" class="ax" style="font-size:9.9px">EFS (months)</text>

</svg>
</body></html>
